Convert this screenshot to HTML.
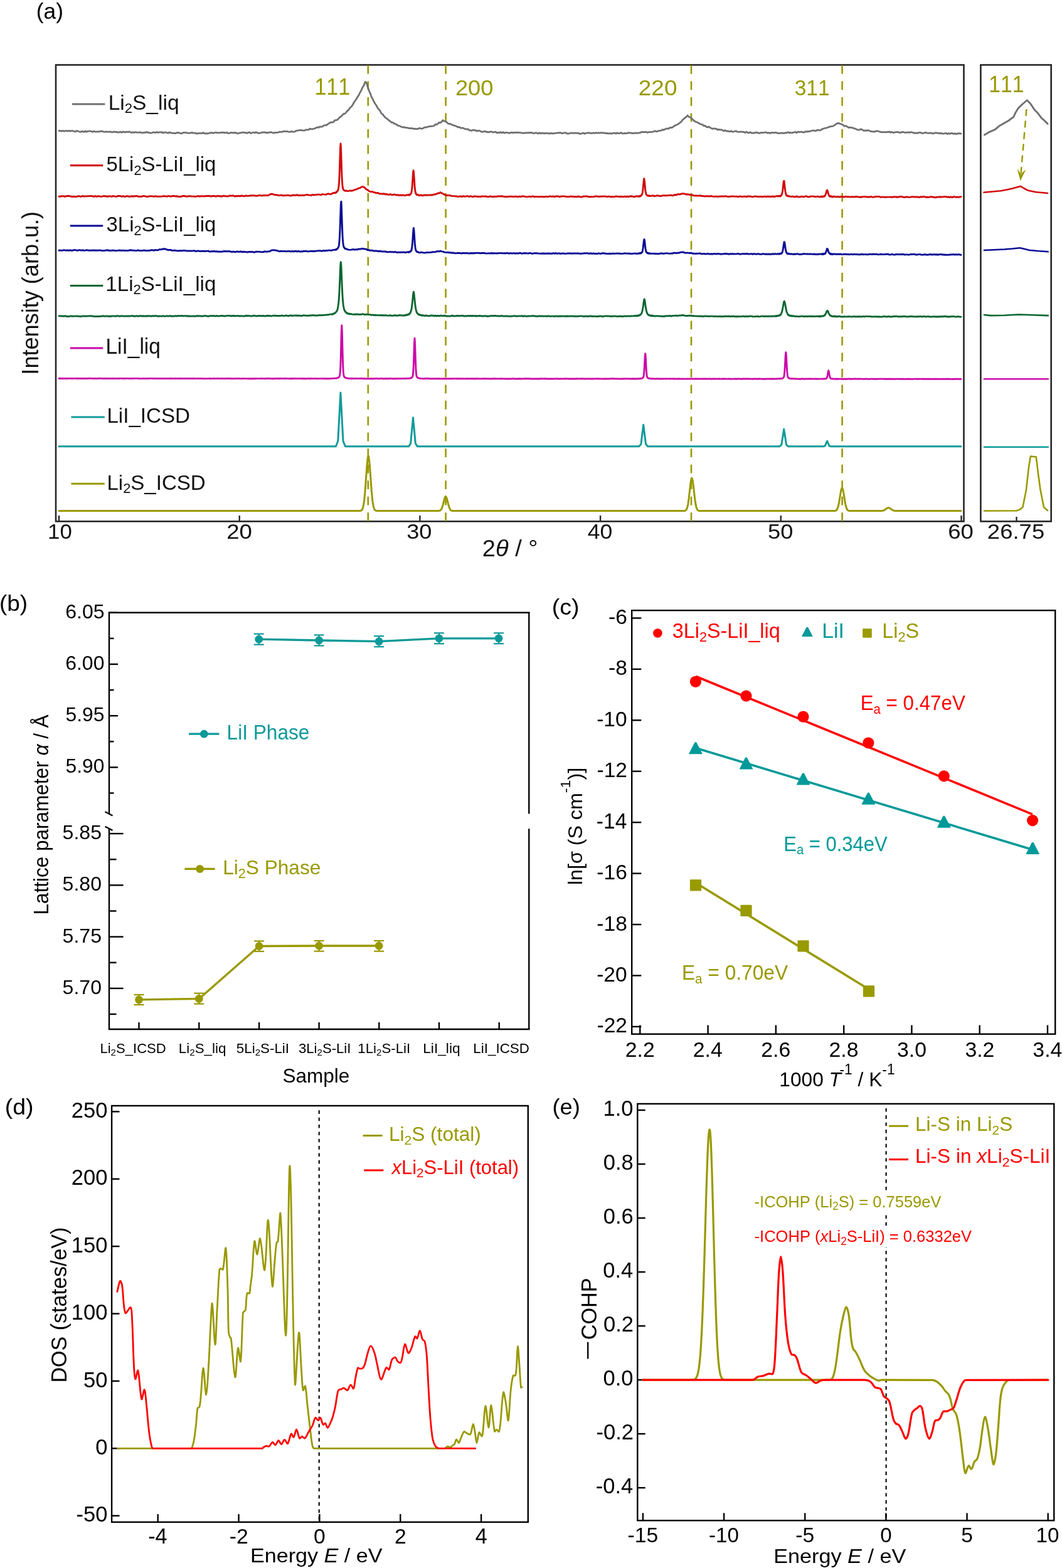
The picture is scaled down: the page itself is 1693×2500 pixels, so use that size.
<!DOCTYPE html>
<html><head><meta charset="utf-8"><title>Figure</title>
<style>
html,body{margin:0;padding:0;background:#fff;}
svg{display:block;}
text{font-family:"Liberation Sans",Arial,Helvetica,sans-serif;font-kerning:none;white-space:pre;}
</style></head>
<body>
<svg width="1693" height="2500" viewBox="0 0 1693 2500">
<rect width="1693" height="2500" fill="#fff"/>
<rect x="89" y="103.5" width="1447.5" height="727.8" fill="none" stroke="#262626" stroke-width="2.6"/>
<rect x="1563.4" y="103.5" width="112.3" height="727.8" fill="none" stroke="#262626" stroke-width="2.6"/>
<line x1="586.80" y1="104.00" x2="586.80" y2="831.00" stroke="#999900" stroke-width="2.60" stroke-dasharray="13.8 11.67"/>
<line x1="710.60" y1="104.00" x2="710.60" y2="831.00" stroke="#999900" stroke-width="2.60" stroke-dasharray="13.8 11.67"/>
<line x1="1102.00" y1="104.00" x2="1102.00" y2="831.00" stroke="#999900" stroke-width="2.60" stroke-dasharray="13.8 11.67"/>
<line x1="1342.60" y1="104.00" x2="1342.60" y2="831.00" stroke="#999900" stroke-width="2.60" stroke-dasharray="13.8 11.67"/>
<line x1="94.00" y1="831.30" x2="94.00" y2="822.00" stroke="#262626" stroke-width="2.40"/>
<line x1="381.70" y1="831.30" x2="381.70" y2="822.00" stroke="#262626" stroke-width="2.40"/>
<line x1="669.40" y1="831.30" x2="669.40" y2="822.00" stroke="#262626" stroke-width="2.40"/>
<line x1="957.10" y1="831.30" x2="957.10" y2="822.00" stroke="#262626" stroke-width="2.40"/>
<line x1="1244.80" y1="831.30" x2="1244.80" y2="822.00" stroke="#262626" stroke-width="2.40"/>
<line x1="1532.50" y1="831.30" x2="1532.50" y2="822.00" stroke="#262626" stroke-width="2.40"/>
<line x1="1620.50" y1="831.30" x2="1620.50" y2="824.00" stroke="#262626" stroke-width="2.40"/>
<polyline points="94.00,208.68 96.00,208.40 98.00,209.33 100.00,208.32 102.00,209.19 104.00,208.91 106.00,208.39 108.00,209.23 110.00,208.41 112.00,209.16 114.00,208.53 116.00,208.60 118.00,209.23 120.00,209.99 122.00,208.75 124.00,208.96 126.00,209.72 128.00,210.33 130.00,209.69 132.00,209.39 134.00,210.47 136.00,208.83 138.00,210.32 140.00,209.32 142.00,209.09 144.00,209.08 146.00,209.45 148.00,210.39 150.00,209.28 152.00,210.03 154.00,210.17 156.00,209.72 158.00,210.06 160.00,209.22 162.00,209.25 164.00,209.54 166.00,210.42 168.00,210.00 170.00,209.83 172.00,210.35 174.00,210.14 176.00,209.89 178.00,210.81 180.00,210.67 182.00,209.88 184.00,210.51 186.00,210.45 188.00,211.11 190.00,210.88 192.00,210.11 194.00,211.39 196.00,209.87 198.00,210.44 200.00,211.08 202.00,210.02 204.00,210.66 206.00,209.88 208.00,211.04 210.00,211.25 212.00,210.93 214.00,211.51 216.00,210.53 218.00,211.24 220.00,211.09 222.00,211.10 224.00,210.91 226.00,211.63 228.00,211.85 230.00,211.03 232.00,211.40 234.00,210.35 236.00,211.53 238.00,211.46 240.00,212.11 242.00,211.84 244.00,210.90 246.00,211.11 248.00,211.65 250.00,210.52 252.00,211.34 254.00,210.84 256.00,210.78 258.00,210.71 260.00,212.01 262.00,210.89 264.00,211.14 266.00,211.42 268.00,212.32 270.00,210.93 272.00,211.62 274.00,211.83 276.00,212.46 278.00,212.38 280.00,212.49 282.00,211.46 284.00,211.74 286.00,211.67 288.00,212.64 290.00,212.80 292.00,211.38 294.00,211.46 296.00,211.59 298.00,211.62 300.00,212.10 302.00,212.32 304.00,211.76 306.00,211.32 308.00,212.10 310.00,212.04 312.00,212.39 314.00,213.08 316.00,212.60 318.00,212.28 320.00,212.46 322.00,212.56 324.00,211.43 326.00,212.95 328.00,212.72 330.00,212.89 332.00,212.74 334.00,212.01 336.00,212.01 338.00,211.47 340.00,212.42 342.00,211.38 344.00,211.38 346.00,211.63 348.00,211.54 350.00,211.85 352.00,211.32 354.00,211.22 356.00,211.48 358.00,211.38 360.00,211.84 362.00,211.22 364.00,212.74 366.00,212.26 368.00,211.41 370.00,211.58 372.00,211.74 374.00,211.76 376.00,211.31 378.00,212.60 380.00,212.84 382.00,211.88 384.00,211.89 386.00,211.16 388.00,211.17 390.00,211.58 392.00,211.42 394.00,212.41 396.00,211.19 398.00,210.91 400.00,212.56 402.00,211.77 404.00,211.05 406.00,211.74 408.00,210.78 410.00,211.65 412.00,212.42 414.00,212.18 416.00,211.84 418.00,211.01 420.00,211.16 422.00,210.76 424.00,211.80 426.00,211.31 428.00,211.70 430.00,210.84 432.00,210.59 434.00,211.58 436.00,211.83 438.00,211.52 440.00,211.36 442.00,211.30 444.00,211.08 446.00,210.07 448.00,210.50 450.00,210.10 452.00,209.41 454.00,209.30 456.00,209.63 458.00,209.47 460.00,210.12 462.00,210.46 464.00,209.39 466.00,210.12 468.00,210.04 470.00,209.81 472.00,208.57 474.00,208.12 476.00,207.92 478.00,207.65 480.00,207.44 482.00,207.95 484.00,208.19 486.00,207.81 488.00,206.87 490.00,206.88 492.00,206.81 494.00,205.18 496.00,205.85 498.00,205.91 500.00,205.26 502.00,204.77 504.00,203.81 506.00,202.78 508.00,203.35 510.00,201.98 512.00,202.23 514.00,201.91 516.00,200.21 518.00,199.52 520.00,199.75 522.00,198.56 524.00,196.72 526.00,195.75 528.00,194.85 530.00,195.20 532.00,193.96 534.00,191.65 536.00,191.67 538.00,190.68 540.00,188.75 542.00,186.77 544.00,185.61 546.00,183.25 548.00,181.34 550.00,181.25 552.00,178.75 554.00,176.50 556.00,175.07 558.00,171.88 560.00,170.24 562.00,167.59 564.00,163.75 566.00,160.92 568.00,157.92 570.00,154.57 572.00,151.73 574.00,147.48 576.00,143.87 578.00,139.23 580.00,136.26 582.00,130.61 584.00,131.58 586.00,137.85 588.00,144.01 590.00,148.31 592.00,153.97 594.00,157.63 596.00,161.76 598.00,165.51 600.00,168.07 602.00,172.04 604.00,174.54 606.00,176.96 608.00,180.91 610.00,182.11 612.00,184.80 614.00,187.24 616.00,188.76 618.00,190.02 620.00,191.92 622.00,193.40 624.00,195.12 626.00,195.10 628.00,197.01 630.00,197.46 632.00,198.42 634.00,200.15 636.00,200.43 638.00,201.21 640.00,202.19 642.00,203.01 644.00,202.66 646.00,203.40 648.00,203.59 650.00,203.93 652.00,204.53 654.00,204.33 656.00,204.65 658.00,204.69 660.00,205.61 662.00,205.22 664.00,205.54 666.00,205.62 668.00,204.30 670.00,204.71 672.00,205.22 674.00,204.81 676.00,203.27 678.00,202.92 680.00,203.12 682.00,202.03 684.00,201.85 686.00,201.00 688.00,201.47 690.00,201.01 692.00,200.47 694.00,198.32 696.00,198.43 698.00,197.36 700.00,195.36 702.00,195.52 704.00,194.41 706.00,191.68 708.00,193.21 710.00,193.46 712.00,194.79 714.00,196.80 716.00,197.54 718.00,197.30 720.00,198.69 722.00,199.69 724.00,200.17 726.00,200.65 728.00,201.57 730.00,202.95 732.00,202.30 734.00,203.84 736.00,204.17 738.00,203.92 740.00,204.95 742.00,205.92 744.00,206.14 746.00,205.72 748.00,207.74 750.00,207.73 752.00,208.38 754.00,207.13 756.00,207.70 758.00,207.56 760.00,209.13 762.00,208.45 764.00,208.42 766.00,209.15 768.00,210.22 770.00,210.23 772.00,209.39 774.00,209.36 776.00,210.89 778.00,210.40 780.00,210.77 782.00,209.79 784.00,209.85 786.00,211.09 788.00,210.72 790.00,210.18 792.00,211.83 794.00,211.36 796.00,211.74 798.00,210.53 800.00,211.99 802.00,210.63 804.00,212.12 806.00,211.45 808.00,211.29 810.00,211.73 812.00,212.45 814.00,211.31 816.00,211.10 818.00,211.86 820.00,211.37 822.00,211.18 824.00,211.30 826.00,211.13 828.00,211.44 830.00,211.66 832.00,211.68 834.00,212.52 836.00,211.70 838.00,212.10 840.00,211.54 842.00,211.86 844.00,211.29 846.00,211.72 848.00,211.32 850.00,212.62 852.00,212.31 854.00,211.67 856.00,212.20 858.00,213.04 860.00,211.56 862.00,212.85 864.00,212.17 866.00,212.29 868.00,212.91 870.00,212.13 872.00,212.34 874.00,212.67 876.00,213.21 878.00,212.07 880.00,212.96 882.00,212.74 884.00,212.62 886.00,212.20 888.00,212.11 890.00,211.59 892.00,211.73 894.00,211.62 896.00,212.84 898.00,211.97 900.00,211.81 902.00,211.67 904.00,213.03 906.00,213.09 908.00,212.73 910.00,212.04 912.00,211.97 914.00,212.06 916.00,212.37 918.00,211.82 920.00,212.35 922.00,212.02 924.00,213.28 926.00,213.30 928.00,212.54 930.00,211.99 932.00,213.29 934.00,212.11 936.00,212.20 938.00,211.56 940.00,212.24 942.00,212.41 944.00,212.46 946.00,211.91 948.00,212.46 950.00,211.55 952.00,212.02 954.00,211.70 956.00,212.25 958.00,211.60 960.00,211.56 962.00,212.06 964.00,211.93 966.00,212.56 968.00,212.45 970.00,212.84 972.00,212.66 974.00,212.75 976.00,213.04 978.00,212.14 980.00,212.01 982.00,213.18 984.00,211.66 986.00,212.68 988.00,212.51 990.00,211.41 992.00,212.81 994.00,212.88 996.00,212.37 998.00,212.53 1000.00,212.64 1002.00,211.39 1004.00,212.03 1006.00,211.95 1008.00,212.50 1010.00,212.38 1012.00,212.36 1014.00,211.86 1016.00,212.34 1018.00,211.88 1020.00,211.81 1022.00,210.88 1024.00,210.42 1026.00,210.49 1028.00,210.77 1030.00,210.18 1032.00,211.34 1034.00,210.68 1036.00,210.63 1038.00,210.44 1040.00,210.32 1042.00,209.75 1044.00,208.62 1046.00,209.78 1048.00,209.39 1050.00,208.62 1052.00,208.32 1054.00,208.16 1056.00,206.67 1058.00,207.41 1060.00,206.04 1062.00,205.17 1064.00,204.91 1066.00,205.09 1068.00,203.43 1070.00,203.62 1072.00,203.19 1074.00,201.40 1076.00,200.19 1078.00,199.26 1080.00,198.42 1082.00,197.26 1084.00,195.55 1086.00,194.04 1088.00,191.31 1090.00,189.58 1092.00,187.74 1094.00,186.41 1096.00,184.06 1098.00,186.24 1100.00,186.84 1102.00,188.44 1104.00,190.22 1106.00,192.28 1108.00,193.56 1110.00,194.71 1112.00,195.12 1114.00,196.56 1116.00,197.44 1118.00,198.35 1120.00,198.58 1122.00,200.79 1124.00,200.29 1126.00,202.41 1128.00,203.00 1130.00,201.97 1132.00,203.36 1134.00,204.56 1136.00,205.35 1138.00,204.90 1140.00,205.04 1142.00,205.36 1144.00,207.09 1146.00,206.15 1148.00,207.17 1150.00,206.72 1152.00,207.72 1154.00,208.79 1156.00,207.59 1158.00,209.09 1160.00,208.77 1162.00,209.68 1164.00,209.57 1166.00,208.92 1168.00,210.31 1170.00,209.75 1172.00,209.09 1174.00,209.21 1176.00,210.23 1178.00,210.30 1180.00,210.16 1182.00,209.99 1184.00,210.47 1186.00,210.52 1188.00,211.57 1190.00,210.15 1192.00,211.58 1194.00,211.82 1196.00,210.61 1198.00,212.13 1200.00,211.80 1202.00,212.19 1204.00,211.14 1206.00,211.33 1208.00,211.41 1210.00,212.54 1212.00,211.83 1214.00,211.45 1216.00,211.59 1218.00,211.34 1220.00,210.95 1222.00,211.06 1224.00,212.39 1226.00,211.41 1228.00,212.58 1230.00,211.35 1232.00,211.38 1234.00,211.81 1236.00,211.23 1238.00,211.54 1240.00,212.58 1242.00,212.43 1244.00,212.28 1246.00,211.92 1248.00,212.40 1250.00,212.42 1252.00,211.67 1254.00,211.93 1256.00,210.68 1258.00,211.86 1260.00,211.29 1262.00,211.77 1264.00,211.50 1266.00,210.78 1268.00,210.27 1270.00,211.76 1272.00,210.22 1274.00,210.73 1276.00,210.38 1278.00,210.17 1280.00,210.83 1282.00,211.10 1284.00,209.65 1286.00,210.19 1288.00,209.36 1290.00,209.62 1292.00,209.11 1294.00,208.46 1296.00,208.19 1298.00,208.00 1300.00,208.96 1302.00,207.90 1304.00,207.05 1306.00,207.91 1308.00,207.66 1310.00,206.24 1312.00,205.20 1314.00,204.79 1316.00,204.05 1318.00,203.91 1320.00,202.81 1322.00,202.38 1324.00,201.66 1326.00,201.41 1328.00,201.11 1330.00,199.91 1332.00,198.29 1334.00,197.19 1336.00,196.19 1338.00,196.89 1340.00,197.73 1342.00,198.08 1344.00,199.27 1346.00,201.26 1348.00,200.45 1350.00,201.79 1352.00,202.64 1354.00,203.64 1356.00,203.02 1358.00,203.63 1360.00,204.07 1362.00,204.80 1364.00,205.31 1366.00,206.62 1368.00,206.80 1370.00,207.20 1372.00,205.99 1374.00,206.32 1376.00,207.83 1378.00,208.44 1380.00,207.93 1382.00,208.38 1384.00,207.54 1386.00,208.46 1388.00,209.62 1390.00,209.62 1392.00,209.85 1394.00,210.22 1396.00,209.07 1398.00,208.96 1400.00,209.18 1402.00,209.96 1404.00,210.37 1406.00,210.95 1408.00,210.65 1410.00,210.61 1412.00,210.92 1414.00,210.45 1416.00,210.69 1418.00,209.85 1420.00,211.25 1422.00,210.33 1424.00,211.62 1426.00,211.18 1428.00,210.62 1430.00,210.35 1432.00,210.62 1434.00,211.36 1436.00,211.51 1438.00,210.49 1440.00,210.45 1442.00,211.30 1444.00,211.43 1446.00,211.11 1448.00,210.83 1450.00,211.54 1452.00,210.50 1454.00,211.06 1456.00,211.41 1458.00,212.37 1460.00,211.86 1462.00,212.35 1464.00,211.67 1466.00,211.29 1468.00,211.37 1470.00,212.71 1472.00,212.30 1474.00,211.64 1476.00,211.17 1478.00,212.08 1480.00,212.45 1482.00,212.04 1484.00,211.79 1486.00,212.58 1488.00,213.09 1490.00,211.88 1492.00,211.58 1494.00,212.17 1496.00,212.37 1498.00,212.88 1500.00,212.05 1502.00,213.18 1504.00,213.11 1506.00,212.74 1508.00,212.24 1510.00,213.66 1512.00,212.52 1514.00,213.47 1516.00,212.45 1518.00,212.48 1520.00,213.49 1522.00,212.69 1524.00,213.92 1526.00,213.14 1528.00,212.62 1530.00,212.73 1532.00,213.12" fill="none" stroke="#707070" stroke-width="2.80" stroke-linejoin="round" stroke-linecap="round"/>
<polyline points="94.00,313.20 96.00,313.54 98.00,312.57 100.00,312.87 102.00,312.65 104.00,313.57 106.00,312.57 108.00,312.46 110.00,312.47 112.00,312.87 114.00,313.48 116.00,313.46 118.00,313.28 120.00,313.60 122.00,313.52 124.00,312.79 126.00,312.62 128.00,313.52 130.00,313.29 132.00,312.44 134.00,313.20 136.00,312.85 138.00,312.85 140.00,312.80 142.00,312.60 144.00,312.40 146.00,312.73 148.00,312.82 150.00,313.55 152.00,312.55 154.00,313.56 156.00,312.65 158.00,312.83 160.00,313.38 162.00,313.38 164.00,312.92 166.00,312.46 168.00,312.97 170.00,312.85 172.00,313.50 174.00,312.63 176.00,312.84 178.00,313.47 180.00,312.43 182.00,312.89 184.00,313.37 186.00,313.32 188.00,312.45 190.00,312.44 192.00,312.47 194.00,313.50 196.00,312.71 198.00,313.29 200.00,313.48 202.00,312.81 204.00,312.72 206.00,313.55 208.00,313.14 210.00,312.71 212.00,313.26 214.00,312.78 216.00,312.73 218.00,312.40 220.00,313.30 222.00,313.50 224.00,313.16 226.00,313.53 228.00,312.43 230.00,312.68 232.00,312.97 234.00,313.55 236.00,313.54 238.00,312.86 240.00,312.70 242.00,312.91 244.00,312.99 246.00,313.51 248.00,312.62 250.00,313.36 252.00,313.28 254.00,313.38 256.00,313.32 258.00,313.13 260.00,312.79 262.00,312.78 264.00,312.83 266.00,313.34 268.00,312.49 270.00,312.63 272.00,313.30 274.00,312.69 276.00,312.47 278.00,312.44 280.00,313.06 282.00,312.79 284.00,313.57 286.00,313.46 288.00,313.58 290.00,312.71 292.00,312.50 294.00,312.51 296.00,312.99 298.00,313.25 300.00,312.93 302.00,312.66 304.00,312.86 306.00,313.09 308.00,313.14 310.00,313.22 312.00,313.32 314.00,313.08 316.00,312.42 318.00,313.27 320.00,312.59 322.00,312.91 324.00,312.66 326.00,313.08 328.00,312.42 330.00,312.46 332.00,312.44 334.00,312.32 336.00,313.18 338.00,312.79 340.00,312.48 342.00,312.54 344.00,313.24 346.00,312.65 348.00,312.30 350.00,312.98 352.00,312.77 354.00,313.16 356.00,312.08 358.00,312.51 360.00,312.91 362.00,312.92 364.00,312.99 366.00,311.93 368.00,312.22 370.00,311.99 372.00,312.06 374.00,312.98 376.00,312.50 378.00,312.90 380.00,312.21 382.00,312.79 384.00,312.27 386.00,312.03 388.00,312.63 390.00,312.82 392.00,311.79 394.00,312.36 396.00,312.37 398.00,311.87 400.00,312.03 402.00,311.74 404.00,311.80 406.00,311.83 408.00,312.22 410.00,312.26 412.00,311.70 414.00,311.43 416.00,311.78 418.00,312.15 420.00,311.50 422.00,311.58 424.00,311.34 426.00,311.88 428.00,311.30 430.00,310.22 432.00,309.48 434.00,309.31 436.00,309.96 438.00,310.79 440.00,310.59 442.00,310.91 444.00,311.68 446.00,311.40 448.00,311.28 450.00,311.32 452.00,312.10 454.00,311.32 456.00,311.61 458.00,311.34 460.00,311.39 462.00,311.91 464.00,312.04 466.00,311.26 468.00,311.03 470.00,311.64 472.00,310.98 474.00,310.72 476.00,311.76 478.00,311.16 480.00,311.60 482.00,311.08 484.00,311.62 486.00,311.08 488.00,310.68 490.00,310.47 492.00,311.08 494.00,311.15 496.00,311.43 498.00,310.41 500.00,311.01 502.00,310.60 504.00,310.65 506.00,310.11 508.00,310.16 510.00,310.33 512.00,310.69 514.00,309.58 516.00,309.90 518.00,310.14 520.00,310.19 522.00,309.10 524.00,308.84 526.00,309.62 528.00,309.34 530.00,308.38 532.00,307.42 534.00,307.87 534.50,307.03 535.00,307.44 535.50,306.86 536.00,306.82 536.50,305.69 537.00,306.05 537.50,304.89 538.00,304.50 538.50,304.22 539.00,303.01 539.50,300.29 540.00,296.95 540.50,291.28 541.00,281.88 541.50,267.97 542.00,250.81 542.50,235.23 543.00,228.89 543.50,235.85 544.00,250.39 544.50,267.70 545.00,281.52 545.50,290.04 546.00,296.72 546.50,299.08 547.00,301.43 547.50,302.40 548.00,303.15 548.50,303.20 549.00,303.66 549.50,304.08 550.00,304.05 550.50,304.44 551.00,304.26 551.50,304.29 552.00,303.81 554.00,304.64 556.00,304.42 558.00,303.93 560.00,304.30 562.00,303.97 564.00,303.16 566.00,302.32 568.00,302.09 570.00,300.97 572.00,300.21 574.00,299.68 576.00,298.24 578.00,297.49 580.00,298.29 582.00,299.71 584.00,302.03 586.00,302.65 588.00,304.47 590.00,305.37 592.00,305.73 594.00,305.74 596.00,306.73 598.00,306.95 600.00,307.94 602.00,307.33 604.00,308.51 606.00,308.96 608.00,308.90 610.00,309.24 612.00,308.71 614.00,309.86 616.00,309.46 618.00,310.21 620.00,310.33 622.00,309.60 624.00,310.51 626.00,310.84 628.00,309.96 630.00,310.45 632.00,311.09 634.00,310.52 636.00,311.54 638.00,310.93 640.00,311.70 642.00,310.90 644.00,311.33 646.00,311.79 648.00,310.86 650.00,310.77 650.10,311.05 650.60,310.77 651.10,310.35 651.60,310.43 652.00,310.31 652.10,311.22 652.60,310.77 653.10,310.85 653.60,309.74 654.00,310.24 654.10,309.37 654.60,309.42 655.10,308.86 655.60,307.36 656.00,306.45 656.10,305.58 656.60,302.26 657.10,297.48 657.60,289.53 658.00,284.04 658.10,281.94 658.60,274.30 659.10,271.67 659.60,274.16 660.00,280.76 660.10,281.91 660.60,289.87 661.10,297.39 661.60,302.16 662.00,304.65 662.10,305.88 662.60,307.07 663.10,309.18 663.60,309.20 664.00,310.05 664.10,310.54 664.60,310.38 665.10,310.72 665.60,310.49 666.00,310.24 666.10,310.31 666.60,310.57 667.10,311.24 667.60,311.10 668.00,311.26 668.10,311.73 670.00,311.00 672.00,311.23 674.00,311.79 676.00,311.04 678.00,310.99 680.00,311.36 682.00,310.97 684.00,311.14 686.00,310.81 688.00,311.01 690.00,310.73 692.00,309.90 694.00,309.94 696.00,309.19 698.00,308.06 700.00,308.15 702.00,306.73 704.00,307.81 706.00,308.70 708.00,310.13 710.00,311.04 712.00,311.45 714.00,311.42 716.00,311.60 718.00,311.58 720.00,312.57 722.00,312.67 724.00,312.59 726.00,313.06 728.00,312.90 730.00,313.56 732.00,313.37 734.00,312.83 736.00,313.65 738.00,312.64 740.00,313.25 742.00,313.12 744.00,312.93 746.00,312.73 748.00,313.61 750.00,312.69 752.00,313.35 754.00,313.82 756.00,312.87 758.00,312.94 760.00,313.44 762.00,313.32 764.00,313.48 766.00,313.69 768.00,312.93 770.00,313.09 772.00,313.08 774.00,312.78 776.00,313.79 778.00,313.67 780.00,313.59 782.00,312.74 784.00,313.75 786.00,313.63 788.00,313.29 790.00,313.63 792.00,313.28 794.00,313.01 796.00,312.87 798.00,313.02 800.00,312.79 802.00,313.15 804.00,313.65 806.00,313.58 808.00,313.77 810.00,313.61 812.00,313.07 814.00,313.42 816.00,313.28 818.00,313.70 820.00,313.39 822.00,313.08 824.00,313.53 826.00,313.92 828.00,313.03 830.00,313.82 832.00,312.79 834.00,313.08 836.00,313.05 838.00,313.67 840.00,313.91 842.00,313.67 844.00,313.17 846.00,313.83 848.00,313.17 850.00,313.07 852.00,313.87 854.00,313.54 856.00,313.62 858.00,313.58 860.00,313.96 862.00,313.35 864.00,313.80 866.00,313.63 868.00,313.82 870.00,313.32 872.00,313.67 874.00,313.48 876.00,313.17 878.00,313.05 880.00,313.55 882.00,312.90 884.00,313.90 886.00,312.98 888.00,312.84 890.00,312.94 892.00,313.92 894.00,313.22 896.00,312.98 898.00,312.85 900.00,312.86 902.00,313.65 904.00,313.58 906.00,313.65 908.00,313.70 910.00,312.90 912.00,313.53 914.00,313.26 916.00,313.81 918.00,313.81 920.00,313.90 922.00,312.91 924.00,313.87 926.00,313.93 928.00,313.97 930.00,312.96 932.00,313.08 934.00,312.97 936.00,312.88 938.00,313.86 940.00,313.81 942.00,313.60 944.00,313.83 946.00,313.60 948.00,313.19 950.00,312.96 952.00,312.96 954.00,313.76 956.00,313.09 958.00,313.23 960.00,313.36 962.00,312.87 964.00,313.16 966.00,313.19 968.00,313.71 970.00,313.29 972.00,313.24 974.00,314.01 976.00,313.46 978.00,313.87 980.00,313.59 982.00,312.89 984.00,313.35 986.00,313.37 988.00,313.78 990.00,313.26 992.00,313.69 994.00,313.49 996.00,313.10 998.00,313.87 1000.00,312.94 1002.00,313.80 1004.00,313.01 1006.00,312.79 1008.00,313.02 1010.00,313.66 1012.00,313.88 1014.00,312.66 1016.00,313.16 1017.80,313.03 1018.00,313.37 1018.30,312.61 1018.80,312.92 1019.30,312.67 1019.80,313.17 1020.00,312.44 1020.30,313.18 1020.80,312.23 1021.30,311.96 1021.80,312.30 1022.00,311.94 1022.30,311.25 1022.80,311.38 1023.30,309.87 1023.80,309.30 1024.00,308.38 1024.30,306.95 1024.80,303.18 1025.30,297.97 1025.80,292.32 1026.00,290.07 1026.30,287.79 1026.80,284.64 1027.30,287.74 1027.80,291.77 1028.00,294.28 1028.30,297.71 1028.80,303.31 1029.30,306.37 1029.80,308.52 1030.00,309.76 1030.30,309.71 1030.80,310.77 1031.30,311.32 1031.80,311.87 1032.00,311.96 1032.30,311.94 1032.80,311.72 1033.30,311.80 1033.80,311.67 1034.00,312.52 1034.30,312.34 1034.80,312.48 1035.30,311.83 1035.80,312.17 1036.00,312.58 1038.00,312.37 1040.00,311.80 1042.00,312.24 1044.00,312.76 1046.00,311.99 1048.00,311.93 1050.00,312.04 1052.00,312.50 1054.00,312.63 1056.00,311.76 1058.00,311.70 1060.00,311.75 1062.00,311.76 1064.00,311.90 1066.00,311.35 1068.00,311.41 1070.00,311.09 1072.00,311.85 1074.00,311.34 1076.00,310.34 1078.00,311.08 1080.00,309.71 1082.00,309.66 1084.00,309.93 1086.00,309.18 1088.00,308.74 1090.00,308.91 1092.00,309.09 1094.00,310.03 1096.00,309.76 1098.00,310.21 1100.00,310.71 1102.00,310.54 1104.00,311.20 1106.00,311.88 1108.00,311.94 1110.00,311.86 1112.00,312.16 1114.00,312.09 1116.00,311.81 1118.00,312.47 1120.00,312.32 1122.00,312.80 1124.00,313.08 1126.00,312.57 1128.00,312.80 1130.00,313.06 1132.00,312.72 1134.00,312.53 1136.00,313.16 1138.00,313.39 1140.00,313.30 1142.00,313.24 1144.00,313.45 1146.00,313.27 1148.00,313.25 1150.00,313.05 1152.00,312.89 1154.00,313.29 1156.00,312.66 1158.00,313.06 1160.00,313.51 1162.00,313.44 1164.00,313.35 1166.00,312.90 1168.00,313.12 1170.00,313.17 1172.00,313.38 1174.00,313.13 1176.00,313.46 1178.00,313.77 1180.00,312.88 1182.00,313.45 1184.00,313.61 1186.00,313.15 1188.00,313.28 1190.00,313.86 1192.00,312.75 1194.00,313.36 1196.00,312.90 1198.00,313.66 1200.00,313.85 1202.00,313.35 1204.00,312.85 1206.00,313.43 1208.00,313.39 1210.00,313.61 1212.00,313.36 1214.00,313.52 1216.00,313.75 1218.00,313.38 1220.00,313.25 1222.00,313.89 1224.00,313.01 1226.00,313.57 1228.00,313.21 1230.00,313.65 1232.00,312.86 1234.00,313.87 1236.00,313.08 1238.00,312.65 1240.00,312.80 1240.70,312.90 1241.20,312.38 1241.70,312.81 1242.00,312.77 1242.20,313.08 1242.70,312.57 1243.20,312.37 1243.70,312.18 1244.00,312.71 1244.20,312.87 1244.70,312.15 1245.20,311.44 1245.70,311.61 1246.00,310.64 1246.20,310.02 1246.70,308.46 1247.20,306.93 1247.70,303.62 1248.00,300.89 1248.20,298.84 1248.70,294.05 1249.20,289.41 1249.70,288.54 1250.00,288.46 1250.20,289.91 1250.70,294.36 1251.20,299.26 1251.70,303.22 1252.00,305.15 1252.20,306.67 1252.70,308.47 1253.20,310.78 1253.70,311.09 1254.00,312.04 1254.20,311.52 1254.70,311.99 1255.20,312.08 1255.70,312.46 1256.00,312.26 1256.20,312.09 1256.70,313.06 1257.20,312.62 1257.70,312.65 1258.00,312.75 1258.20,312.99 1258.70,312.98 1260.00,313.34 1262.00,313.47 1264.00,313.18 1266.00,313.90 1268.00,313.85 1270.00,312.92 1272.00,313.86 1274.00,313.97 1276.00,313.84 1278.00,313.08 1280.00,313.92 1282.00,313.69 1284.00,312.96 1286.00,312.96 1288.00,314.10 1290.00,313.75 1292.00,313.26 1294.00,313.09 1296.00,313.14 1298.00,313.25 1300.00,313.90 1302.00,313.38 1304.00,313.13 1306.00,314.02 1308.00,313.85 1309.60,313.05 1310.00,313.90 1310.10,313.55 1310.60,313.74 1311.10,313.57 1311.60,313.80 1312.00,313.64 1312.10,313.69 1312.60,312.86 1313.10,313.38 1313.60,313.07 1314.00,313.20 1314.10,312.80 1314.60,313.07 1315.10,312.25 1315.60,311.23 1316.00,310.41 1316.10,310.07 1316.60,309.08 1317.10,306.80 1317.60,305.38 1318.00,303.66 1318.10,303.81 1318.60,303.17 1319.10,303.88 1319.60,305.86 1320.00,306.37 1320.10,307.75 1320.60,309.06 1321.10,310.59 1321.60,311.73 1322.00,312.50 1322.10,312.06 1322.60,312.54 1323.10,313.45 1323.60,312.56 1324.00,313.32 1324.10,313.34 1324.60,312.69 1325.10,313.45 1325.60,313.59 1326.00,313.92 1326.10,313.21 1326.60,314.03 1327.10,313.49 1327.60,313.48 1328.00,314.00 1330.00,313.02 1332.00,313.89 1334.00,313.80 1336.00,313.48 1338.00,314.13 1340.00,313.54 1342.00,313.69 1344.00,313.76 1346.00,314.06 1348.00,313.40 1350.00,313.68 1352.00,313.67 1354.00,313.83 1356.00,314.17 1358.00,313.54 1360.00,314.18 1362.00,313.68 1364.00,313.81 1366.00,313.54 1368.00,313.83 1370.00,314.39 1372.00,314.02 1374.00,314.19 1376.00,313.64 1378.00,313.63 1380.00,313.61 1382.00,313.96 1384.00,314.03 1386.00,314.21 1388.00,313.33 1390.00,314.15 1392.00,314.35 1394.00,313.95 1396.00,313.36 1398.00,313.67 1400.00,313.32 1402.00,313.55 1404.00,314.43 1406.00,314.06 1408.00,314.13 1410.00,314.29 1412.00,314.44 1414.00,314.09 1416.00,314.10 1418.00,314.12 1420.00,314.21 1422.00,314.10 1424.00,314.20 1426.00,313.65 1428.00,314.20 1430.00,313.95 1432.00,314.32 1434.00,313.54 1436.00,313.64 1438.00,313.47 1440.00,314.36 1442.00,314.54 1444.00,314.23 1446.00,313.89 1448.00,314.44 1450.00,314.41 1452.00,314.14 1454.00,313.78 1456.00,313.84 1458.00,313.99 1460.00,313.87 1462.00,314.01 1464.00,314.27 1466.00,314.63 1468.00,313.58 1470.00,314.20 1472.00,313.57 1474.00,313.67 1476.00,314.51 1478.00,314.23 1480.00,314.65 1482.00,314.09 1484.00,313.58 1486.00,314.03 1488.00,314.28 1490.00,314.70 1492.00,314.76 1494.00,314.16 1496.00,314.09 1498.00,313.72 1500.00,314.38 1502.00,313.87 1504.00,313.80 1506.00,313.64 1508.00,313.64 1510.00,314.46 1512.00,313.79 1514.00,314.81 1516.00,313.76 1518.00,314.70 1520.00,313.82 1522.00,313.69 1524.00,314.54 1526.00,313.97 1528.00,314.57 1530.00,313.92 1532.00,313.76" fill="none" stroke="#d20a0a" stroke-width="2.90" stroke-linejoin="round" stroke-linecap="round"/>
<polyline points="94.00,399.27 96.00,399.21 98.00,399.36 100.00,399.24 102.00,398.60 104.00,399.15 106.00,399.24 108.00,398.99 110.00,399.47 112.00,398.80 114.00,399.52 116.00,399.27 118.00,398.57 120.00,398.58 122.00,399.22 124.00,399.40 126.00,398.67 128.00,398.90 130.00,399.33 132.00,398.77 134.00,399.47 136.00,399.10 138.00,398.68 140.00,398.99 142.00,399.21 144.00,399.08 146.00,399.32 148.00,398.79 150.00,399.45 152.00,399.02 154.00,399.31 156.00,399.30 158.00,399.09 160.00,399.07 162.00,399.47 164.00,399.64 166.00,399.48 168.00,399.27 170.00,399.00 172.00,398.77 174.00,399.69 176.00,399.42 178.00,399.55 180.00,399.06 182.00,399.34 184.00,399.72 186.00,399.58 188.00,399.35 190.00,399.06 192.00,399.19 194.00,399.65 196.00,399.14 198.00,399.45 200.00,399.37 202.00,399.67 204.00,399.59 206.00,399.06 208.00,398.78 210.00,399.05 212.00,399.21 214.00,399.37 216.00,399.60 218.00,399.67 220.00,398.82 222.00,399.61 224.00,399.59 226.00,399.64 228.00,399.33 230.00,399.02 232.00,399.58 234.00,399.52 236.00,399.37 238.00,399.57 240.00,398.96 242.00,398.65 244.00,399.05 246.00,399.20 248.00,398.47 250.00,398.85 252.00,398.80 254.00,397.79 256.00,397.79 258.00,397.47 260.00,397.00 262.00,396.76 264.00,397.11 266.00,398.03 268.00,398.48 270.00,398.50 272.00,398.39 274.00,399.32 276.00,399.45 278.00,399.05 280.00,399.50 282.00,399.91 284.00,399.98 286.00,399.68 288.00,399.70 290.00,399.87 292.00,399.52 294.00,399.57 296.00,399.61 298.00,400.17 300.00,399.88 302.00,400.12 304.00,400.00 306.00,400.15 308.00,399.82 310.00,399.76 312.00,400.74 314.00,400.16 316.00,399.93 318.00,400.49 320.00,400.68 322.00,400.08 324.00,400.56 326.00,400.34 328.00,400.55 330.00,400.08 332.00,400.13 334.00,401.12 336.00,401.03 338.00,400.68 340.00,400.79 342.00,400.52 344.00,401.07 346.00,400.75 348.00,401.30 350.00,401.16 352.00,401.24 354.00,401.42 356.00,400.74 358.00,400.55 360.00,400.75 362.00,400.76 364.00,400.70 366.00,400.69 368.00,401.23 370.00,401.58 372.00,401.20 374.00,401.72 376.00,401.71 378.00,400.90 380.00,401.46 382.00,401.29 384.00,401.04 386.00,401.91 388.00,401.24 390.00,401.58 392.00,401.68 394.00,402.03 396.00,401.77 398.00,401.52 400.00,401.60 402.00,401.34 404.00,402.17 406.00,402.19 408.00,401.38 410.00,401.16 412.00,401.33 414.00,401.38 416.00,401.88 418.00,401.82 420.00,401.68 422.00,400.80 424.00,401.43 426.00,401.19 428.00,400.91 430.00,400.92 432.00,399.47 434.00,398.83 436.00,398.73 438.00,398.89 440.00,399.28 442.00,399.58 444.00,400.33 446.00,400.77 448.00,400.29 450.00,400.60 452.00,400.60 454.00,400.50 456.00,400.87 458.00,400.56 460.00,400.63 462.00,400.53 464.00,401.05 466.00,400.37 468.00,401.06 470.00,400.51 472.00,400.33 474.00,401.20 476.00,400.47 478.00,401.16 480.00,401.07 482.00,401.07 484.00,400.29 486.00,400.57 488.00,400.19 490.00,401.00 492.00,400.88 494.00,400.64 496.00,400.43 498.00,400.29 500.00,400.74 502.00,400.33 504.00,400.41 506.00,399.86 508.00,399.86 510.00,399.63 512.00,400.21 514.00,399.97 516.00,399.48 518.00,400.12 520.00,399.42 522.00,399.46 524.00,399.10 526.00,399.08 528.00,399.50 530.00,398.80 532.00,398.37 534.00,398.32 534.80,397.94 535.30,398.37 535.80,397.39 536.00,398.18 536.30,397.12 536.80,397.70 537.30,397.17 537.80,396.33 538.00,396.42 538.30,395.93 538.80,395.26 539.30,394.32 539.80,393.11 540.00,392.97 540.30,391.46 540.80,387.48 541.30,380.16 541.80,370.42 542.00,366.01 542.30,356.63 542.80,341.45 543.30,326.81 543.80,321.45 544.00,321.50 544.30,327.28 544.80,340.98 545.30,356.59 545.80,369.97 546.00,375.20 546.30,380.38 546.80,386.48 547.30,390.59 547.80,393.31 548.00,393.23 548.30,394.30 548.80,394.71 549.30,395.34 549.80,396.36 550.00,396.45 550.30,396.13 550.80,396.27 551.30,396.49 551.80,397.18 552.00,397.12 552.30,397.00 552.80,397.07 554.00,397.73 556.00,398.09 558.00,398.33 560.00,398.17 562.00,397.79 564.00,397.61 566.00,398.18 568.00,397.72 570.00,397.84 572.00,396.92 574.00,397.35 576.00,396.48 578.00,396.50 580.00,396.80 582.00,397.16 584.00,397.29 586.00,398.70 588.00,398.70 590.00,399.47 592.00,399.18 594.00,399.37 596.00,400.26 598.00,400.00 600.00,399.98 602.00,400.36 604.00,400.73 606.00,400.28 608.00,400.92 610.00,400.96 612.00,401.14 614.00,400.85 616.00,401.54 618.00,401.74 620.00,401.88 622.00,401.42 624.00,401.89 626.00,401.65 628.00,402.09 630.00,401.48 632.00,402.37 634.00,402.52 636.00,402.13 638.00,402.21 640.00,402.28 642.00,402.33 644.00,401.85 646.00,402.81 648.00,402.04 650.00,401.90 650.40,401.78 650.90,401.86 651.40,402.35 651.90,401.47 652.00,401.51 652.40,402.02 652.90,401.38 653.40,401.02 653.90,401.38 654.00,401.30 654.40,401.00 654.90,400.75 655.40,399.48 655.90,399.11 656.00,398.65 656.40,396.35 656.90,393.20 657.40,388.62 657.90,381.86 658.00,380.11 658.40,373.57 658.90,366.76 659.40,363.49 659.90,366.96 660.00,368.43 660.40,373.61 660.90,381.95 661.40,388.90 661.90,393.28 662.00,394.71 662.40,397.29 662.90,398.68 663.40,399.85 663.90,400.95 664.00,400.74 664.40,400.94 664.90,401.80 665.40,401.87 665.90,401.61 666.00,401.54 666.40,401.75 666.90,401.98 667.40,402.62 667.90,402.53 668.00,402.65 668.40,402.61 670.00,402.80 672.00,402.13 674.00,402.65 676.00,403.12 678.00,403.10 680.00,402.40 682.00,402.53 684.00,402.67 686.00,402.31 688.00,402.36 690.00,401.74 692.00,401.90 694.00,401.71 696.00,400.91 698.00,400.63 700.00,400.97 702.00,400.17 704.00,400.87 706.00,401.19 708.00,401.87 710.00,402.35 712.00,402.68 714.00,402.10 716.00,402.93 718.00,402.73 720.00,403.30 722.00,403.02 724.00,403.39 726.00,403.85 728.00,403.60 730.00,403.28 732.00,403.59 734.00,403.53 736.00,404.07 738.00,403.43 740.00,403.47 742.00,403.83 744.00,403.31 746.00,403.80 748.00,404.17 750.00,403.74 752.00,403.50 754.00,403.70 756.00,403.78 758.00,403.40 760.00,403.38 762.00,403.39 764.00,403.56 766.00,403.68 768.00,403.57 770.00,403.53 772.00,403.37 774.00,403.84 776.00,404.14 778.00,403.91 780.00,403.87 782.00,403.96 784.00,403.51 786.00,404.03 788.00,403.78 790.00,403.87 792.00,403.94 794.00,403.80 796.00,403.65 798.00,403.58 800.00,403.57 802.00,403.86 804.00,403.74 806.00,403.94 808.00,403.38 810.00,403.72 812.00,404.23 814.00,403.61 816.00,403.94 818.00,403.88 820.00,403.67 822.00,404.38 824.00,403.69 826.00,404.17 828.00,403.56 830.00,403.48 832.00,404.28 834.00,403.86 836.00,403.48 838.00,403.81 840.00,403.87 842.00,404.17 844.00,403.55 846.00,403.67 848.00,404.40 850.00,404.19 852.00,403.61 854.00,403.79 856.00,403.81 858.00,404.14 860.00,404.09 862.00,404.32 864.00,404.30 866.00,404.00 868.00,404.23 870.00,404.23 872.00,404.25 874.00,403.97 876.00,404.29 878.00,404.22 880.00,404.43 882.00,403.64 884.00,404.39 886.00,403.53 888.00,404.29 890.00,404.12 892.00,404.03 894.00,404.50 896.00,404.12 898.00,403.97 900.00,404.34 902.00,404.43 904.00,404.17 906.00,403.94 908.00,404.02 910.00,404.03 912.00,404.30 914.00,403.87 916.00,403.97 918.00,404.14 920.00,403.98 922.00,403.92 924.00,404.39 926.00,404.45 928.00,404.11 930.00,404.06 932.00,403.80 934.00,403.92 936.00,403.77 938.00,404.20 940.00,404.21 942.00,403.72 944.00,404.56 946.00,403.97 948.00,404.49 950.00,404.49 952.00,404.61 954.00,403.86 956.00,404.09 958.00,404.58 960.00,403.68 962.00,403.72 964.00,404.24 966.00,404.18 968.00,404.60 970.00,404.46 972.00,404.23 974.00,404.69 976.00,404.21 978.00,404.22 980.00,404.39 982.00,404.09 984.00,404.07 986.00,404.30 988.00,404.06 990.00,404.66 992.00,404.39 994.00,404.24 996.00,403.81 998.00,404.09 1000.00,404.11 1002.00,404.27 1004.00,404.28 1006.00,404.58 1008.00,404.65 1010.00,404.15 1012.00,404.08 1014.00,404.23 1016.00,404.53 1018.00,403.77 1018.50,403.92 1019.00,404.15 1019.50,403.45 1020.00,403.53 1020.50,404.11 1021.00,403.86 1021.50,403.42 1022.00,402.84 1022.50,403.38 1023.00,402.79 1023.50,402.26 1024.00,401.30 1024.50,399.31 1025.00,395.96 1025.50,391.74 1026.00,387.25 1026.50,383.34 1027.00,381.57 1027.50,383.02 1028.00,387.17 1028.50,392.25 1029.00,396.19 1029.50,398.84 1030.00,401.38 1030.50,402.17 1031.00,402.24 1031.50,403.01 1032.00,403.65 1032.50,403.35 1033.00,403.88 1033.50,403.30 1034.00,403.69 1034.50,404.31 1035.00,404.11 1035.50,404.25 1036.00,403.82 1038.00,404.26 1040.00,404.40 1042.00,404.15 1044.00,404.55 1046.00,404.44 1048.00,404.90 1050.00,404.48 1052.00,404.30 1054.00,403.99 1056.00,404.00 1058.00,404.58 1060.00,403.89 1062.00,403.84 1064.00,403.85 1066.00,404.14 1068.00,404.37 1070.00,404.07 1072.00,404.16 1074.00,403.30 1076.00,403.11 1078.00,403.71 1080.00,403.07 1082.00,403.25 1084.00,402.63 1086.00,402.16 1088.00,402.05 1090.00,402.18 1092.00,403.24 1094.00,403.15 1096.00,403.12 1098.00,403.40 1100.00,403.50 1102.00,403.31 1104.00,404.27 1106.00,404.07 1108.00,404.55 1110.00,404.12 1112.00,404.37 1114.00,404.07 1116.00,403.93 1118.00,404.87 1120.00,404.85 1122.00,404.35 1124.00,404.97 1126.00,404.93 1128.00,404.45 1130.00,404.78 1132.00,405.16 1134.00,404.72 1136.00,405.20 1138.00,404.51 1140.00,404.67 1142.00,405.02 1144.00,404.54 1146.00,404.64 1148.00,405.22 1150.00,404.84 1152.00,405.16 1154.00,404.62 1156.00,404.56 1158.00,404.76 1160.00,404.59 1162.00,405.39 1164.00,404.72 1166.00,404.99 1168.00,404.56 1170.00,404.98 1172.00,404.84 1174.00,404.87 1176.00,404.53 1178.00,404.60 1180.00,405.31 1182.00,404.84 1184.00,404.74 1186.00,404.69 1188.00,404.79 1190.00,404.75 1192.00,404.55 1194.00,405.19 1196.00,404.87 1198.00,404.69 1200.00,405.25 1202.00,404.64 1204.00,404.82 1206.00,405.39 1208.00,404.69 1210.00,405.01 1212.00,405.40 1214.00,405.37 1216.00,404.73 1218.00,404.93 1220.00,405.30 1222.00,404.96 1224.00,405.54 1226.00,404.79 1228.00,405.53 1230.00,405.07 1232.00,404.79 1234.00,405.00 1236.00,404.65 1238.00,405.18 1240.00,404.67 1241.30,405.23 1241.80,404.88 1242.00,404.65 1242.30,404.50 1242.80,404.80 1243.30,404.34 1243.80,404.92 1244.00,404.14 1244.30,404.46 1244.80,404.36 1245.30,403.92 1245.80,404.16 1246.00,403.63 1246.30,403.64 1246.80,402.87 1247.30,401.50 1247.80,399.82 1248.00,398.59 1248.30,397.04 1248.80,394.38 1249.30,390.10 1249.80,387.20 1250.00,385.80 1250.30,385.76 1250.80,386.90 1251.30,390.28 1251.80,393.83 1252.00,395.01 1252.30,397.19 1252.80,399.67 1253.30,401.33 1253.80,403.04 1254.00,402.92 1254.30,403.41 1254.80,404.32 1255.30,404.45 1255.80,404.73 1256.00,404.77 1256.30,404.12 1256.80,404.36 1257.30,404.20 1257.80,404.92 1258.00,404.93 1258.30,404.65 1258.80,404.75 1259.30,405.04 1260.00,405.13 1262.00,404.77 1264.00,405.43 1266.00,404.98 1268.00,405.28 1270.00,404.86 1272.00,404.81 1274.00,405.62 1276.00,405.45 1278.00,405.44 1280.00,404.78 1282.00,404.79 1284.00,404.92 1286.00,404.96 1288.00,405.07 1290.00,405.16 1292.00,404.82 1294.00,405.09 1296.00,405.42 1298.00,404.97 1300.00,405.63 1302.00,405.35 1304.00,405.49 1306.00,405.02 1308.00,405.17 1309.90,405.37 1310.00,405.03 1310.40,404.67 1310.90,405.48 1311.40,405.40 1311.90,404.87 1312.00,404.62 1312.40,405.40 1312.90,405.10 1313.40,404.48 1313.90,404.58 1314.00,404.42 1314.40,404.98 1314.90,404.18 1315.40,404.52 1315.90,403.78 1316.00,402.97 1316.40,402.86 1316.90,401.35 1317.40,400.19 1317.90,398.64 1318.00,397.78 1318.40,396.53 1318.90,396.83 1319.40,396.87 1319.90,398.75 1320.00,398.83 1320.40,400.19 1320.90,401.80 1321.40,402.80 1321.90,403.50 1322.00,403.24 1322.40,404.33 1322.90,404.42 1323.40,404.73 1323.90,405.29 1324.00,404.51 1324.40,405.22 1324.90,404.57 1325.40,405.29 1325.90,405.43 1326.00,404.90 1326.40,405.21 1326.90,405.66 1327.40,405.36 1327.90,405.28 1328.00,404.99 1330.00,404.86 1332.00,405.20 1334.00,405.28 1336.00,405.09 1338.00,405.21 1340.00,405.05 1342.00,405.64 1344.00,405.61 1346.00,405.18 1348.00,405.20 1350.00,405.48 1352.00,405.42 1354.00,405.91 1356.00,405.34 1358.00,405.29 1360.00,405.88 1362.00,405.15 1364.00,405.58 1366.00,405.35 1368.00,405.84 1370.00,405.58 1372.00,405.80 1374.00,405.21 1376.00,405.72 1378.00,405.65 1380.00,405.52 1382.00,405.83 1384.00,405.90 1386.00,405.19 1388.00,405.37 1390.00,405.45 1392.00,405.30 1394.00,405.16 1396.00,405.39 1398.00,405.31 1400.00,405.82 1402.00,405.57 1404.00,405.24 1406.00,405.46 1408.00,405.61 1410.00,405.51 1412.00,405.32 1414.00,405.23 1416.00,405.18 1418.00,406.16 1420.00,405.93 1422.00,405.27 1424.00,405.91 1426.00,406.18 1428.00,405.77 1430.00,405.32 1432.00,405.70 1434.00,405.65 1436.00,405.41 1438.00,405.77 1440.00,405.24 1442.00,406.16 1444.00,405.89 1446.00,405.88 1448.00,406.19 1450.00,405.92 1452.00,405.52 1454.00,405.52 1456.00,405.42 1458.00,405.32 1460.00,406.07 1462.00,406.14 1464.00,405.60 1466.00,405.50 1468.00,405.95 1470.00,406.17 1472.00,406.25 1474.00,405.50 1476.00,406.12 1478.00,406.18 1480.00,406.09 1482.00,405.68 1484.00,405.55 1486.00,406.19 1488.00,405.69 1490.00,405.75 1492.00,405.94 1494.00,405.76 1496.00,406.23 1498.00,405.64 1500.00,405.45 1502.00,405.98 1504.00,406.05 1506.00,406.24 1508.00,406.14 1510.00,406.34 1512.00,406.39 1514.00,405.94 1516.00,405.95 1518.00,405.62 1520.00,405.76 1522.00,406.05 1524.00,405.56 1526.00,406.17 1528.00,405.65 1530.00,405.94 1532.00,406.47" fill="none" stroke="#0c0c96" stroke-width="2.90" stroke-linejoin="round" stroke-linecap="round"/>
<polyline points="94.00,503.83 96.00,503.78 98.00,504.14 100.00,503.91 102.00,504.38 104.00,503.73 106.00,504.48 108.00,504.49 110.00,504.43 112.00,504.10 114.00,503.97 116.00,504.30 118.00,504.17 120.00,504.08 122.00,504.00 124.00,504.09 126.00,504.29 128.00,504.43 130.00,504.50 132.00,503.83 134.00,503.94 136.00,504.07 138.00,504.18 140.00,503.98 142.00,503.84 144.00,503.74 146.00,503.95 148.00,504.07 150.00,504.53 152.00,504.47 154.00,504.42 156.00,504.52 158.00,504.50 160.00,504.19 162.00,504.36 164.00,503.68 166.00,504.23 168.00,504.17 170.00,503.88 172.00,504.13 174.00,504.47 176.00,504.04 178.00,504.19 180.00,503.87 182.00,503.91 184.00,504.39 186.00,503.61 188.00,503.76 190.00,504.19 192.00,503.98 194.00,503.65 196.00,504.17 198.00,503.90 200.00,504.09 202.00,503.94 204.00,504.04 206.00,504.06 208.00,503.91 210.00,503.65 212.00,503.71 214.00,504.34 216.00,504.03 218.00,503.63 220.00,504.31 222.00,503.76 224.00,503.61 226.00,504.00 228.00,503.74 230.00,503.95 232.00,504.01 234.00,503.71 236.00,504.02 238.00,503.60 240.00,503.96 242.00,504.02 244.00,503.56 246.00,503.85 248.00,503.55 250.00,503.87 252.00,504.25 254.00,503.97 256.00,504.11 258.00,504.15 260.00,503.56 262.00,504.35 264.00,504.10 266.00,503.54 268.00,504.19 270.00,503.80 272.00,503.59 274.00,504.30 276.00,503.94 278.00,504.13 280.00,503.55 282.00,504.12 284.00,503.47 286.00,503.63 288.00,503.75 290.00,503.42 292.00,503.94 294.00,503.59 296.00,503.67 298.00,504.03 300.00,503.77 302.00,504.19 304.00,503.94 306.00,504.17 308.00,503.88 310.00,504.20 312.00,504.15 314.00,503.52 316.00,504.03 318.00,503.67 320.00,504.04 322.00,503.96 324.00,504.09 326.00,503.46 328.00,503.68 330.00,504.00 332.00,504.19 334.00,503.98 336.00,503.37 338.00,503.87 340.00,503.41 342.00,503.81 344.00,504.04 346.00,503.41 348.00,504.14 350.00,503.91 352.00,503.53 354.00,503.47 356.00,503.69 358.00,504.04 360.00,503.81 362.00,503.38 364.00,503.30 366.00,503.37 368.00,503.99 370.00,503.43 372.00,503.76 374.00,503.52 376.00,503.87 378.00,503.59 380.00,503.38 382.00,504.03 384.00,503.72 386.00,503.86 388.00,503.96 390.00,504.08 392.00,503.24 394.00,503.53 396.00,503.35 398.00,503.66 400.00,503.99 402.00,503.92 404.00,503.23 406.00,503.36 408.00,503.93 410.00,503.80 412.00,503.54 414.00,503.61 416.00,503.32 418.00,503.93 420.00,503.52 422.00,503.95 424.00,503.71 426.00,503.22 428.00,503.45 430.00,503.34 432.00,503.95 434.00,503.67 436.00,503.17 438.00,503.28 440.00,503.45 442.00,503.54 444.00,503.63 446.00,503.46 448.00,503.41 450.00,503.07 452.00,503.57 454.00,503.32 456.00,503.01 458.00,503.38 460.00,503.83 462.00,502.96 464.00,503.03 466.00,503.47 468.00,503.09 470.00,503.06 472.00,503.24 474.00,503.00 476.00,503.25 478.00,503.19 480.00,503.54 482.00,503.55 484.00,502.66 486.00,503.10 488.00,503.26 490.00,503.32 492.00,503.20 494.00,503.04 496.00,503.01 498.00,502.73 500.00,502.62 502.00,503.03 504.00,503.05 506.00,503.06 508.00,502.77 510.00,502.37 512.00,502.71 514.00,502.62 516.00,502.32 518.00,502.34 520.00,501.97 522.00,502.01 524.00,501.70 526.00,501.17 528.00,501.13 529.30,500.86 529.80,501.35 530.00,500.84 530.30,500.66 530.80,500.41 531.30,500.24 531.80,500.17 532.00,499.90 532.30,499.66 532.80,500.21 533.30,499.57 533.80,499.26 534.00,499.24 534.30,498.79 534.80,498.26 535.30,497.69 535.80,497.34 536.00,497.09 536.30,497.05 536.80,496.06 537.30,495.38 537.80,493.52 538.00,493.41 538.30,492.01 538.80,489.23 539.30,486.13 539.80,482.10 540.00,480.29 540.30,475.91 540.80,468.33 541.30,457.84 541.80,446.07 542.00,440.14 542.30,432.79 542.80,422.49 543.30,417.64 543.80,421.89 544.00,425.42 544.30,432.48 544.80,445.48 545.30,458.04 545.80,467.76 546.00,471.36 546.30,475.69 546.80,482.02 547.30,486.64 547.80,489.62 548.00,490.22 548.30,492.01 548.80,493.93 549.30,494.90 549.80,495.45 550.00,496.45 550.30,496.98 550.80,497.16 551.30,497.53 551.80,498.03 552.00,498.51 552.30,499.04 552.80,499.16 553.30,499.70 553.80,499.30 554.00,499.50 554.30,500.00 554.80,500.09 555.30,500.04 555.80,500.42 556.00,500.17 556.30,499.99 556.80,500.42 557.30,500.18 558.00,500.82 560.00,500.80 562.00,501.12 564.00,501.32 566.00,501.06 568.00,501.25 570.00,500.80 572.00,501.55 574.00,501.13 576.00,501.45 578.00,500.62 580.00,501.21 582.00,501.48 584.00,501.31 586.00,501.29 588.00,501.51 590.00,501.65 592.00,502.34 594.00,501.83 596.00,502.58 598.00,502.31 600.00,502.48 602.00,502.59 604.00,502.62 606.00,502.76 608.00,502.76 610.00,502.56 612.00,502.97 614.00,502.58 616.00,503.02 618.00,503.10 620.00,503.14 622.00,502.75 624.00,503.20 626.00,503.40 628.00,502.95 630.00,502.81 632.00,503.04 634.00,503.42 636.00,502.68 638.00,502.55 640.00,502.93 642.00,503.03 644.00,503.03 645.40,502.55 645.90,503.06 646.00,502.36 646.40,502.79 646.90,502.13 647.40,502.00 647.90,502.01 648.00,501.93 648.40,502.25 648.90,502.19 649.40,501.72 649.90,502.26 650.00,501.71 650.40,501.37 650.90,501.19 651.40,501.44 651.90,501.32 652.00,500.57 652.40,500.16 652.90,500.40 653.40,499.36 653.90,499.33 654.00,498.73 654.40,498.09 654.90,496.59 655.40,495.35 655.90,492.84 656.00,492.19 656.40,490.34 656.90,485.93 657.40,481.97 657.90,476.19 658.00,475.64 658.40,471.25 658.90,467.52 659.40,465.18 659.90,467.25 660.00,467.79 660.40,471.72 660.90,476.99 661.40,481.89 661.90,486.05 662.00,486.88 662.40,489.78 662.90,492.83 663.40,494.86 663.90,496.49 664.00,497.27 664.40,498.12 664.90,498.74 665.40,500.08 665.90,499.93 666.00,500.34 666.40,500.31 666.90,501.31 667.40,501.61 667.90,501.32 668.00,501.80 668.40,502.03 668.90,501.73 669.40,501.93 669.90,502.20 670.00,502.59 670.40,502.03 670.90,502.61 671.40,502.62 671.90,502.57 672.00,502.70 672.40,503.04 672.90,502.50 673.40,503.16 674.00,502.76 676.00,503.30 678.00,503.50 680.00,502.97 682.00,503.66 684.00,503.83 686.00,503.24 688.00,503.03 690.00,503.14 692.00,503.94 694.00,503.09 696.00,503.93 698.00,503.26 700.00,503.80 702.00,503.24 704.00,503.32 706.00,503.79 708.00,503.27 710.00,503.50 712.00,504.03 714.00,503.86 716.00,504.02 718.00,504.11 720.00,503.27 722.00,503.46 724.00,503.97 726.00,503.88 728.00,503.30 730.00,503.73 732.00,503.49 734.00,503.67 736.00,503.39 738.00,503.32 740.00,504.19 742.00,503.59 744.00,504.10 746.00,503.43 748.00,503.76 750.00,503.45 752.00,503.72 754.00,503.50 756.00,503.96 758.00,503.48 760.00,504.02 762.00,503.81 764.00,503.47 766.00,503.69 768.00,503.82 770.00,504.21 772.00,503.70 774.00,503.58 776.00,504.27 778.00,504.20 780.00,504.06 782.00,503.66 784.00,503.57 786.00,503.66 788.00,503.49 790.00,503.47 792.00,503.89 794.00,503.81 796.00,503.94 798.00,503.77 800.00,503.46 802.00,504.08 804.00,504.05 806.00,503.96 808.00,503.96 810.00,504.10 812.00,504.36 814.00,504.27 816.00,504.13 818.00,503.85 820.00,503.78 822.00,503.88 824.00,504.38 826.00,503.86 828.00,503.86 830.00,503.89 832.00,503.65 834.00,504.43 836.00,503.54 838.00,504.08 840.00,504.37 842.00,503.77 844.00,504.10 846.00,503.89 848.00,503.78 850.00,503.74 852.00,503.67 854.00,504.33 856.00,504.28 858.00,504.40 860.00,503.63 862.00,504.21 864.00,503.88 866.00,504.18 868.00,504.10 870.00,503.89 872.00,504.48 874.00,503.61 876.00,504.29 878.00,504.39 880.00,504.09 882.00,504.16 884.00,504.53 886.00,503.85 888.00,504.21 890.00,504.32 892.00,503.99 894.00,504.30 896.00,504.01 898.00,504.14 900.00,504.22 902.00,504.28 904.00,503.96 906.00,504.24 908.00,504.17 910.00,503.89 912.00,504.24 914.00,503.93 916.00,504.52 918.00,504.13 920.00,504.35 922.00,504.18 924.00,504.14 926.00,503.92 928.00,503.85 930.00,504.56 932.00,504.20 934.00,504.20 936.00,504.21 938.00,504.47 940.00,503.96 942.00,503.90 944.00,504.49 946.00,504.16 948.00,504.33 950.00,504.50 952.00,504.56 954.00,504.54 956.00,503.80 958.00,504.11 960.00,504.52 962.00,504.51 964.00,503.88 966.00,503.91 968.00,504.00 970.00,503.87 972.00,504.10 974.00,504.50 976.00,504.25 978.00,504.19 980.00,503.86 982.00,504.13 984.00,504.67 986.00,504.40 988.00,504.17 990.00,504.19 992.00,504.47 994.00,504.43 996.00,503.87 998.00,504.33 1000.00,504.04 1002.00,504.15 1004.00,503.87 1006.00,503.95 1008.00,503.87 1010.00,503.83 1012.00,503.40 1013.20,503.48 1013.70,503.78 1014.00,503.29 1014.20,503.38 1014.70,503.81 1015.20,503.35 1015.70,503.33 1016.00,503.22 1016.20,503.72 1016.70,502.97 1017.20,503.36 1017.70,503.45 1018.00,502.78 1018.20,502.93 1018.70,503.11 1019.20,502.78 1019.70,502.35 1020.00,501.91 1020.20,502.16 1020.70,501.78 1021.20,501.70 1021.70,500.82 1022.00,500.55 1022.20,500.48 1022.70,499.75 1023.20,498.16 1023.70,496.62 1024.00,495.62 1024.20,495.04 1024.70,491.76 1025.20,489.24 1025.70,485.33 1026.00,482.75 1026.20,481.56 1026.70,478.31 1027.20,476.93 1027.70,478.69 1028.00,479.97 1028.20,481.43 1028.70,485.13 1029.20,489.17 1029.70,492.26 1030.00,493.24 1030.20,494.73 1030.70,496.67 1031.20,498.24 1031.70,499.75 1032.00,499.93 1032.20,500.30 1032.70,501.33 1033.20,501.43 1033.70,501.86 1034.00,502.08 1034.20,502.47 1034.70,502.59 1035.20,502.86 1035.70,502.73 1036.00,502.50 1036.20,503.13 1036.70,503.14 1037.20,503.44 1037.70,503.54 1038.00,503.00 1038.20,503.13 1038.70,503.07 1039.20,503.80 1039.70,503.21 1040.00,503.23 1040.20,503.85 1040.70,503.72 1041.20,503.30 1042.00,503.92 1044.00,504.05 1046.00,503.91 1048.00,503.57 1050.00,504.17 1052.00,503.93 1054.00,504.09 1056.00,504.46 1058.00,504.28 1060.00,504.31 1062.00,503.63 1064.00,503.76 1066.00,503.88 1068.00,503.36 1070.00,504.18 1072.00,503.45 1074.00,503.35 1076.00,503.28 1078.00,503.11 1080.00,503.53 1082.00,503.14 1084.00,503.00 1086.00,502.86 1088.00,502.51 1090.00,502.78 1092.00,503.37 1094.00,503.43 1096.00,503.61 1098.00,503.20 1100.00,503.27 1102.00,503.25 1104.00,503.79 1106.00,503.73 1108.00,503.88 1110.00,503.97 1112.00,504.11 1114.00,503.96 1116.00,504.40 1118.00,503.89 1120.00,504.57 1122.00,504.27 1124.00,503.84 1126.00,504.10 1128.00,504.31 1130.00,504.22 1132.00,504.37 1134.00,504.17 1136.00,504.13 1138.00,504.62 1140.00,504.17 1142.00,504.56 1144.00,504.65 1146.00,504.47 1148.00,504.35 1150.00,504.79 1152.00,504.35 1154.00,504.75 1156.00,504.02 1158.00,504.36 1160.00,504.55 1162.00,504.02 1164.00,504.76 1166.00,504.05 1168.00,504.53 1170.00,504.16 1172.00,504.83 1174.00,504.50 1176.00,504.72 1178.00,504.45 1180.00,504.61 1182.00,504.62 1184.00,504.28 1186.00,504.20 1188.00,504.77 1190.00,504.14 1192.00,504.84 1194.00,504.20 1196.00,504.11 1198.00,504.10 1200.00,504.72 1202.00,504.87 1204.00,504.38 1206.00,504.60 1208.00,504.24 1210.00,504.82 1212.00,504.61 1214.00,504.13 1216.00,504.03 1218.00,504.60 1220.00,504.00 1222.00,504.70 1224.00,504.19 1226.00,504.11 1228.00,504.40 1230.00,504.12 1232.00,504.28 1234.00,503.83 1236.00,504.40 1236.30,503.85 1236.80,504.28 1237.30,503.62 1237.80,504.15 1238.00,504.29 1238.30,503.73 1238.80,503.35 1239.30,503.59 1239.80,503.75 1240.00,503.34 1240.30,503.58 1240.80,503.07 1241.30,503.28 1241.80,503.38 1242.00,503.04 1242.30,503.16 1242.80,502.44 1243.30,502.81 1243.80,501.83 1244.00,502.38 1244.30,502.14 1244.80,501.47 1245.30,500.26 1245.80,498.95 1246.00,498.47 1246.30,497.94 1246.80,495.93 1247.30,494.16 1247.80,490.89 1248.00,490.16 1248.30,488.81 1248.80,485.73 1249.30,483.11 1249.80,480.86 1250.00,480.48 1250.30,480.35 1250.80,481.59 1251.30,483.39 1251.80,485.40 1252.00,487.16 1252.30,488.07 1252.80,491.35 1253.30,494.20 1253.80,495.80 1254.00,497.10 1254.30,497.86 1254.80,498.74 1255.30,500.09 1255.80,501.03 1256.00,501.13 1256.30,501.92 1256.80,501.89 1257.30,502.79 1257.80,502.62 1258.00,502.50 1258.30,503.07 1258.80,502.82 1259.30,503.37 1259.80,503.71 1260.00,503.58 1260.30,503.51 1260.80,503.22 1261.30,503.73 1261.80,503.42 1262.00,503.94 1262.30,503.51 1262.80,503.97 1263.30,503.82 1263.80,503.88 1264.00,504.15 1264.30,503.73 1266.00,503.84 1268.00,504.62 1270.00,504.14 1272.00,504.65 1274.00,504.71 1276.00,504.39 1278.00,504.11 1280.00,504.08 1282.00,504.80 1284.00,504.13 1286.00,504.48 1288.00,504.52 1290.00,504.15 1292.00,504.46 1294.00,504.19 1296.00,504.52 1298.00,504.49 1300.00,504.35 1302.00,504.18 1304.00,504.34 1304.90,504.14 1305.40,504.06 1305.90,504.15 1306.00,504.71 1306.40,504.37 1306.90,504.70 1307.40,503.90 1307.90,504.71 1308.00,504.30 1308.40,504.55 1308.90,504.32 1309.40,504.40 1309.90,503.95 1310.00,504.41 1310.40,503.84 1310.90,503.88 1311.40,503.61 1311.90,503.85 1312.00,503.95 1312.40,503.66 1312.90,504.06 1313.40,503.15 1313.90,503.33 1314.00,502.96 1314.40,502.99 1314.90,502.68 1315.40,501.98 1315.90,500.58 1316.00,500.57 1316.40,500.09 1316.90,499.31 1317.40,497.26 1317.90,496.65 1318.00,496.52 1318.40,496.00 1318.90,495.26 1319.40,495.99 1319.90,496.52 1320.00,497.14 1320.40,497.24 1320.90,499.27 1321.40,499.93 1321.90,500.90 1322.00,500.79 1322.40,501.57 1322.90,502.64 1323.40,503.08 1323.90,502.96 1324.00,503.19 1324.40,503.21 1324.90,503.45 1325.40,503.61 1325.90,503.82 1326.00,504.42 1326.40,504.50 1326.90,504.38 1327.40,504.15 1327.90,504.22 1328.00,504.48 1328.40,504.62 1328.90,504.52 1329.40,504.44 1329.90,504.07 1330.00,504.46 1330.40,504.68 1330.90,504.65 1331.40,504.04 1331.90,504.62 1332.00,504.29 1332.40,504.13 1332.90,504.87 1334.00,504.63 1336.00,504.73 1338.00,504.21 1340.00,504.85 1342.00,504.96 1344.00,504.94 1346.00,504.81 1348.00,504.90 1350.00,504.88 1352.00,504.69 1354.00,504.56 1356.00,504.91 1358.00,504.88 1360.00,504.96 1362.00,504.45 1364.00,505.05 1366.00,504.67 1368.00,505.04 1370.00,504.30 1372.00,505.07 1374.00,504.91 1376.00,504.43 1378.00,504.96 1380.00,504.42 1382.00,504.39 1384.00,504.63 1386.00,504.43 1388.00,504.66 1390.00,505.04 1392.00,504.84 1394.00,504.86 1396.00,504.58 1398.00,504.94 1400.00,504.95 1402.00,504.85 1404.00,505.08 1406.00,504.98 1408.00,504.61 1410.00,504.32 1412.00,504.83 1414.00,505.00 1416.00,504.55 1418.00,504.78 1420.00,505.00 1422.00,504.97 1424.00,504.26 1426.00,504.70 1428.00,504.27 1430.00,504.36 1432.00,504.99 1434.00,504.64 1436.00,504.81 1438.00,504.68 1440.00,504.57 1442.00,504.46 1444.00,504.59 1446.00,505.03 1448.00,504.83 1450.00,504.54 1452.00,504.36 1454.00,504.52 1456.00,504.91 1458.00,504.68 1460.00,504.88 1462.00,505.01 1464.00,504.40 1466.00,504.91 1468.00,504.33 1470.00,505.03 1472.00,504.46 1474.00,504.54 1476.00,505.16 1478.00,504.63 1480.00,504.50 1482.00,505.11 1484.00,504.86 1486.00,505.11 1488.00,504.66 1490.00,504.76 1492.00,505.17 1494.00,504.77 1496.00,505.21 1498.00,504.49 1500.00,505.07 1502.00,504.47 1504.00,504.80 1506.00,504.32 1508.00,504.48 1510.00,505.18 1512.00,504.74 1514.00,505.06 1516.00,504.56 1518.00,504.65 1520.00,504.43 1522.00,504.83 1524.00,505.11 1526.00,504.80 1528.00,504.68 1530.00,505.18 1532.00,505.15" fill="none" stroke="#0a6632" stroke-width="2.90" stroke-linejoin="round" stroke-linecap="round"/>
<polyline points="94.00,603.45 96.00,603.27 98.00,603.44 100.00,603.39 102.00,603.54 104.00,603.36 106.00,603.46 108.00,603.45 110.00,603.37 112.00,603.42 114.00,603.47 116.00,603.54 118.00,603.41 120.00,603.37 122.00,603.56 124.00,603.29 126.00,603.52 128.00,603.48 130.00,603.44 132.00,603.41 134.00,603.50 136.00,603.54 138.00,603.50 140.00,603.50 142.00,603.29 144.00,603.38 146.00,603.32 148.00,603.57 150.00,603.55 152.00,603.33 154.00,603.46 156.00,603.46 158.00,603.30 160.00,603.41 162.00,603.52 164.00,603.49 166.00,603.38 168.00,603.52 170.00,603.38 172.00,603.46 174.00,603.43 176.00,603.59 178.00,603.50 180.00,603.54 182.00,603.51 184.00,603.42 186.00,603.60 188.00,603.52 190.00,603.52 192.00,603.39 194.00,603.36 196.00,603.49 198.00,603.56 200.00,603.55 202.00,603.42 204.00,603.36 206.00,603.47 208.00,603.58 210.00,603.37 212.00,603.54 214.00,603.38 216.00,603.42 218.00,603.34 220.00,603.42 222.00,603.44 224.00,603.62 226.00,603.62 228.00,603.39 230.00,603.43 232.00,603.62 234.00,603.40 236.00,603.43 238.00,603.47 240.00,603.37 242.00,603.42 244.00,603.46 246.00,603.46 248.00,603.63 250.00,603.43 252.00,603.41 254.00,603.62 256.00,603.49 258.00,603.60 260.00,603.54 262.00,603.59 264.00,603.45 266.00,603.40 268.00,603.59 270.00,603.50 272.00,603.53 274.00,603.56 276.00,603.59 278.00,603.45 280.00,603.47 282.00,603.64 284.00,603.53 286.00,603.46 288.00,603.56 290.00,603.45 292.00,603.60 294.00,603.39 296.00,603.62 298.00,603.55 300.00,603.48 302.00,603.66 304.00,603.46 306.00,603.45 308.00,603.40 310.00,603.55 312.00,603.61 314.00,603.59 316.00,603.51 318.00,603.63 320.00,603.42 322.00,603.48 324.00,603.59 326.00,603.68 328.00,603.59 330.00,603.60 332.00,603.63 334.00,603.52 336.00,603.68 338.00,603.62 340.00,603.50 342.00,603.52 344.00,603.65 346.00,603.51 348.00,603.46 350.00,603.67 352.00,603.57 354.00,603.57 356.00,603.61 358.00,603.68 360.00,603.45 362.00,603.52 364.00,603.44 366.00,603.54 368.00,603.57 370.00,603.68 372.00,603.62 374.00,603.60 376.00,603.55 378.00,603.60 380.00,603.51 382.00,603.68 384.00,603.67 386.00,603.68 388.00,603.48 390.00,603.63 392.00,603.66 394.00,603.59 396.00,603.71 398.00,603.71 400.00,603.66 402.00,603.69 404.00,603.64 406.00,603.71 408.00,603.48 410.00,603.66 412.00,603.66 414.00,603.63 416.00,603.53 418.00,603.47 420.00,603.63 422.00,603.70 424.00,603.53 426.00,603.52 428.00,603.52 430.00,603.48 432.00,603.66 434.00,603.75 436.00,603.70 438.00,603.57 440.00,603.67 442.00,603.48 444.00,603.71 446.00,603.56 448.00,603.47 450.00,603.66 452.00,603.51 454.00,603.55 456.00,603.49 458.00,603.60 460.00,603.64 462.00,603.71 464.00,603.48 466.00,603.72 468.00,603.51 470.00,603.54 472.00,603.66 474.00,603.58 476.00,603.58 478.00,603.65 480.00,603.54 482.00,603.72 484.00,603.54 486.00,603.73 488.00,603.72 490.00,603.64 492.00,603.49 494.00,603.71 496.00,603.49 498.00,603.63 500.00,603.60 502.00,603.50 504.00,603.66 506.00,603.69 508.00,603.65 510.00,603.59 512.00,603.62 514.00,603.63 516.00,603.52 518.00,603.70 520.00,603.73 522.00,603.66 524.00,603.69 526.00,603.48 528.00,603.64 530.00,603.31 532.00,603.36 534.00,603.14 535.80,603.05 536.00,603.09 536.30,603.06 536.80,602.90 537.30,602.76 537.80,602.59 538.00,602.60 538.30,602.47 538.80,602.25 539.30,602.17 539.80,601.80 540.00,601.62 540.30,601.28 540.80,600.82 541.30,599.62 541.80,597.53 542.00,596.20 542.30,593.15 542.80,584.27 543.30,569.04 543.80,548.46 544.00,539.73 544.30,527.96 544.80,518.74 545.30,527.77 545.80,548.24 546.00,556.86 546.30,569.07 546.80,584.20 547.30,593.13 547.80,597.53 548.00,598.59 548.30,599.61 548.80,600.80 549.30,601.52 549.80,601.74 550.00,601.79 550.30,602.01 550.80,602.31 551.30,602.66 551.80,602.78 552.00,602.73 552.30,602.70 552.80,602.80 553.30,602.90 553.80,603.16 554.00,603.09 556.00,603.44 558.00,603.52 560.00,603.56 562.00,603.51 564.00,603.65 566.00,603.47 568.00,603.48 570.00,603.63 572.00,603.63 574.00,603.55 576.00,603.57 578.00,603.51 580.00,603.78 582.00,603.73 584.00,603.80 586.00,603.82 588.00,603.66 590.00,603.75 592.00,603.65 594.00,603.78 596.00,603.79 598.00,603.58 600.00,603.54 602.00,603.61 604.00,603.72 606.00,603.66 608.00,603.55 610.00,603.80 612.00,603.78 614.00,603.69 616.00,603.56 618.00,603.81 620.00,603.71 622.00,603.57 624.00,603.64 626.00,603.73 628.00,603.81 630.00,603.68 632.00,603.73 634.00,603.59 636.00,603.60 638.00,603.78 640.00,603.61 642.00,603.51 644.00,603.63 646.00,603.46 648.00,603.43 650.00,603.42 652.00,603.31 652.50,603.27 653.00,603.23 653.50,603.07 654.00,602.86 654.50,602.95 655.00,602.60 655.50,602.54 656.00,602.29 656.50,602.05 657.00,601.60 657.50,600.66 658.00,599.18 658.50,595.77 659.00,588.91 659.50,577.30 660.00,561.87 660.50,546.28 661.00,539.12 661.50,546.17 662.00,561.90 662.50,577.33 663.00,588.89 663.50,595.80 664.00,599.24 664.50,600.78 665.00,601.61 665.50,601.87 666.00,602.20 666.50,602.70 667.00,602.83 667.50,602.75 668.00,602.87 668.50,603.02 669.00,603.30 669.50,603.16 670.00,603.35 672.00,603.58 674.00,603.58 676.00,603.72 678.00,603.56 680.00,603.55 682.00,603.53 684.00,603.77 686.00,603.59 688.00,603.86 690.00,603.79 692.00,603.64 694.00,603.83 696.00,603.64 698.00,603.75 700.00,603.63 702.00,603.84 704.00,603.88 706.00,603.89 708.00,603.62 710.00,603.87 712.00,603.79 714.00,603.87 716.00,603.78 718.00,603.81 720.00,603.81 722.00,603.87 724.00,603.66 726.00,603.65 728.00,603.80 730.00,603.73 732.00,603.76 734.00,603.64 736.00,603.87 738.00,603.65 740.00,603.90 742.00,603.89 744.00,603.79 746.00,603.69 748.00,603.85 750.00,603.72 752.00,603.78 754.00,603.69 756.00,603.95 758.00,603.82 760.00,603.77 762.00,603.69 764.00,603.88 766.00,603.92 768.00,603.92 770.00,603.70 772.00,603.78 774.00,603.76 776.00,603.90 778.00,603.72 780.00,603.86 782.00,603.97 784.00,603.91 786.00,603.68 788.00,603.70 790.00,603.72 792.00,603.89 794.00,603.86 796.00,603.84 798.00,603.82 800.00,603.81 802.00,603.87 804.00,603.89 806.00,603.97 808.00,603.91 810.00,603.93 812.00,603.97 814.00,603.95 816.00,603.91 818.00,603.71 820.00,603.91 822.00,603.96 824.00,603.83 826.00,603.97 828.00,603.76 830.00,603.99 832.00,603.84 834.00,603.92 836.00,603.79 838.00,603.80 840.00,603.82 842.00,603.81 844.00,603.75 846.00,603.85 848.00,604.01 850.00,603.92 852.00,604.00 854.00,603.95 856.00,603.98 858.00,604.02 860.00,603.95 862.00,603.81 864.00,603.80 866.00,603.85 868.00,603.74 870.00,603.80 872.00,604.00 874.00,604.01 876.00,603.84 878.00,603.97 880.00,603.97 882.00,604.01 884.00,603.98 886.00,603.90 888.00,603.78 890.00,603.99 892.00,603.84 894.00,603.94 896.00,603.86 898.00,603.91 900.00,604.04 902.00,603.80 904.00,603.91 906.00,603.95 908.00,603.92 910.00,604.04 912.00,603.88 914.00,604.03 916.00,603.97 918.00,604.05 920.00,603.79 922.00,603.83 924.00,603.85 926.00,604.04 928.00,603.77 930.00,603.85 932.00,603.99 934.00,604.07 936.00,603.83 938.00,603.91 940.00,603.98 942.00,603.98 944.00,604.00 946.00,604.00 948.00,603.85 950.00,603.86 952.00,603.79 954.00,603.99 956.00,603.85 958.00,603.86 960.00,604.08 962.00,603.98 964.00,603.97 966.00,603.99 968.00,603.97 970.00,604.00 972.00,603.88 974.00,603.81 976.00,603.81 978.00,603.80 980.00,603.90 982.00,603.84 984.00,603.83 986.00,603.94 988.00,604.08 990.00,604.00 992.00,603.88 994.00,604.02 996.00,603.84 998.00,603.82 1000.00,603.88 1002.00,603.91 1004.00,603.99 1006.00,603.91 1008.00,603.98 1010.00,603.78 1012.00,604.02 1014.00,603.82 1016.00,603.93 1018.00,603.63 1019.70,603.79 1020.00,603.59 1020.20,603.76 1020.70,603.71 1021.20,603.62 1021.70,603.44 1022.00,603.32 1022.20,603.34 1022.70,603.47 1023.20,603.13 1023.70,603.13 1024.00,603.00 1024.20,602.93 1024.70,602.49 1025.20,601.98 1025.70,600.96 1026.00,600.14 1026.20,598.90 1026.70,594.71 1027.20,587.46 1027.70,577.53 1028.00,571.33 1028.20,567.73 1028.70,563.59 1029.20,567.77 1029.70,577.75 1030.00,583.69 1030.20,587.51 1030.70,594.56 1031.20,599.03 1031.70,601.01 1032.00,601.74 1032.20,602.10 1032.70,602.48 1033.20,602.81 1033.70,603.18 1034.00,603.12 1034.20,603.20 1034.70,603.43 1035.20,603.36 1035.70,603.42 1036.00,603.47 1036.20,603.54 1036.70,603.58 1037.20,603.71 1037.70,603.69 1038.00,603.83 1040.00,603.67 1042.00,603.91 1044.00,603.99 1046.00,603.84 1048.00,603.79 1050.00,603.93 1052.00,603.84 1054.00,603.95 1056.00,604.03 1058.00,603.85 1060.00,603.86 1062.00,603.98 1064.00,603.89 1066.00,603.91 1068.00,603.97 1070.00,603.88 1072.00,603.87 1074.00,603.96 1076.00,603.99 1078.00,604.14 1080.00,604.02 1082.00,603.88 1084.00,603.93 1086.00,604.09 1088.00,604.03 1090.00,604.13 1092.00,604.16 1094.00,604.13 1096.00,603.90 1098.00,604.15 1100.00,604.03 1102.00,603.95 1104.00,603.93 1106.00,604.14 1108.00,603.94 1110.00,603.91 1112.00,603.96 1114.00,604.16 1116.00,604.02 1118.00,604.11 1120.00,603.91 1122.00,604.02 1124.00,603.99 1126.00,603.95 1128.00,604.09 1130.00,604.00 1132.00,603.93 1134.00,604.19 1136.00,604.04 1138.00,603.95 1140.00,603.90 1142.00,604.10 1144.00,604.06 1146.00,603.91 1148.00,604.05 1150.00,604.13 1152.00,604.07 1154.00,603.98 1156.00,604.06 1158.00,604.09 1160.00,604.11 1162.00,603.96 1164.00,604.16 1166.00,604.20 1168.00,604.14 1170.00,604.17 1172.00,604.03 1174.00,604.19 1176.00,603.97 1178.00,603.99 1180.00,604.10 1182.00,604.19 1184.00,603.95 1186.00,603.99 1188.00,603.94 1190.00,604.06 1192.00,603.97 1194.00,603.99 1196.00,604.15 1198.00,604.10 1200.00,604.21 1202.00,604.05 1204.00,604.13 1206.00,603.93 1208.00,604.22 1210.00,604.00 1212.00,604.07 1214.00,604.08 1216.00,604.21 1218.00,604.08 1220.00,604.22 1222.00,604.11 1224.00,603.99 1226.00,604.17 1228.00,603.97 1230.00,604.20 1232.00,604.03 1234.00,603.95 1236.00,604.15 1238.00,603.93 1240.00,603.91 1242.00,603.82 1243.80,603.82 1244.00,603.61 1244.30,603.69 1244.80,603.57 1245.30,603.72 1245.80,603.40 1246.00,603.55 1246.30,603.39 1246.80,603.34 1247.30,603.23 1247.80,603.10 1248.00,602.84 1248.30,602.71 1248.80,602.29 1249.30,601.84 1249.80,600.21 1250.00,599.31 1250.30,597.55 1250.80,592.54 1251.30,584.85 1251.80,574.74 1252.00,570.80 1252.30,565.54 1252.80,561.65 1253.30,565.63 1253.80,574.85 1254.00,579.06 1254.30,584.78 1254.80,592.63 1255.30,597.68 1255.80,600.25 1256.00,601.13 1256.30,601.68 1256.80,602.27 1257.30,602.92 1257.80,602.92 1258.00,602.97 1258.30,603.16 1258.80,603.29 1259.30,603.61 1259.80,603.67 1260.00,603.56 1260.30,603.63 1260.80,603.79 1261.30,603.83 1261.80,603.82 1262.00,603.79 1264.00,603.78 1266.00,603.89 1268.00,604.05 1270.00,604.06 1272.00,604.14 1274.00,604.19 1276.00,604.22 1278.00,604.00 1280.00,603.97 1282.00,604.22 1284.00,604.13 1286.00,604.02 1288.00,604.17 1290.00,604.04 1292.00,604.04 1294.00,604.08 1296.00,604.13 1298.00,604.17 1300.00,603.99 1302.00,604.19 1304.00,604.15 1306.00,604.10 1308.00,604.15 1310.00,604.16 1311.80,603.90 1312.00,604.03 1312.30,604.08 1312.80,604.08 1313.30,604.04 1313.80,603.88 1314.00,604.10 1314.30,604.03 1314.80,603.84 1315.30,603.85 1315.80,603.95 1316.00,603.70 1316.30,603.71 1316.80,603.76 1317.30,603.52 1317.80,602.89 1318.00,602.76 1318.30,602.06 1318.80,600.58 1319.30,598.17 1319.80,594.90 1320.00,593.67 1320.30,592.03 1320.80,590.79 1321.30,591.98 1321.80,594.90 1322.00,596.26 1322.30,598.07 1322.80,600.40 1323.30,602.13 1323.80,603.11 1324.00,603.21 1324.30,603.36 1324.80,603.69 1325.30,603.73 1325.80,603.73 1326.00,603.84 1326.30,603.74 1326.80,603.98 1327.30,603.86 1327.80,603.95 1328.00,604.14 1328.30,604.09 1328.80,604.13 1329.30,604.09 1329.80,604.10 1330.00,604.12 1332.00,604.24 1334.00,604.03 1336.00,604.21 1338.00,604.08 1340.00,604.08 1342.00,604.25 1344.00,604.19 1346.00,604.27 1348.00,604.28 1350.00,604.20 1352.00,604.08 1354.00,604.03 1356.00,604.19 1358.00,604.25 1360.00,604.12 1362.00,604.06 1364.00,604.04 1366.00,604.09 1368.00,604.25 1370.00,604.04 1372.00,604.11 1374.00,604.13 1376.00,604.26 1378.00,604.34 1380.00,604.06 1382.00,604.09 1384.00,604.33 1386.00,604.35 1388.00,604.10 1390.00,604.16 1392.00,604.22 1394.00,604.16 1396.00,604.19 1398.00,604.21 1400.00,604.14 1402.00,604.08 1404.00,604.09 1406.00,604.12 1408.00,604.10 1410.00,604.26 1412.00,604.28 1414.00,604.15 1416.00,604.31 1418.00,604.29 1420.00,604.18 1422.00,604.23 1424.00,604.14 1426.00,604.36 1428.00,604.25 1430.00,604.10 1432.00,604.13 1434.00,604.29 1436.00,604.20 1438.00,604.30 1440.00,604.16 1442.00,604.33 1444.00,604.33 1446.00,604.12 1448.00,604.27 1450.00,604.15 1452.00,604.31 1454.00,604.34 1456.00,604.34 1458.00,604.17 1460.00,604.13 1462.00,604.30 1464.00,604.28 1466.00,604.15 1468.00,604.17 1470.00,604.28 1472.00,604.14 1474.00,604.30 1476.00,604.19 1478.00,604.19 1480.00,604.24 1482.00,604.28 1484.00,604.34 1486.00,604.13 1488.00,604.34 1490.00,604.19 1492.00,604.21 1494.00,604.32 1496.00,604.33 1498.00,604.31 1500.00,604.40 1502.00,604.19 1504.00,604.22 1506.00,604.33 1508.00,604.21 1510.00,604.18 1512.00,604.20 1514.00,604.37 1516.00,604.39 1518.00,604.36 1520.00,604.43 1522.00,604.38 1524.00,604.24 1526.00,604.24 1528.00,604.36 1530.00,604.16 1532.00,604.33" fill="none" stroke="#cc08a8" stroke-width="2.90" stroke-linejoin="round" stroke-linecap="round"/>
<polyline points="94.00,711.80 535.40,711.80 538.77,703.22 542.90,626.00 547.02,703.22 550.40,711.80 651.50,711.80 654.65,707.20 658.50,665.80 662.35,707.20 665.50,711.80 1018.70,711.80 1021.85,708.34 1025.70,677.20 1029.55,708.34 1032.70,711.80 1242.70,711.80 1245.85,709.04 1249.70,684.20 1253.55,709.04 1256.70,711.80 1312.60,711.80 1315.30,710.94 1318.60,703.20 1321.90,710.94 1324.60,711.80 1532.00,711.80" fill="none" stroke="#119b9b" stroke-width="3.00" stroke-linejoin="round" stroke-linecap="round"/>
<polyline points="94.00,814.50 102.00,814.50 110.00,814.50 118.00,814.50 126.00,814.50 134.00,814.50 142.00,814.50 150.00,814.50 158.00,814.50 166.00,814.51 174.00,814.51 182.00,814.51 190.00,814.51 198.00,814.51 206.00,814.51 214.00,814.51 222.00,814.51 230.00,814.51 238.00,814.51 246.00,814.51 254.00,814.51 262.00,814.51 270.00,814.51 278.00,814.51 286.00,814.51 294.00,814.51 302.00,814.51 310.00,814.52 318.00,814.52 326.00,814.52 334.00,814.52 342.00,814.52 350.00,814.52 358.00,814.52 366.00,814.52 374.00,814.52 382.00,814.52 390.00,814.52 398.00,814.52 406.00,814.52 414.00,814.52 422.00,814.52 430.00,814.52 438.00,814.52 446.00,814.52 454.00,814.53 462.00,814.53 470.00,814.53 478.00,814.53 486.00,814.53 494.00,814.53 502.00,814.53 510.00,814.53 518.00,814.53 526.00,814.53 534.00,814.53 542.00,814.53 550.00,814.53 558.00,814.53 566.00,814.53 572.80,814.50 574.00,814.43 574.30,814.39 575.80,813.95 577.30,812.54 578.80,808.78 580.30,800.59 581.80,786.13 582.00,783.71 583.30,765.88 584.80,744.47 586.30,729.73 587.20,727.03 587.80,728.24 589.30,740.72 590.00,749.87 590.80,761.46 592.30,782.46 593.80,798.24 595.30,807.57 596.80,812.04 598.00,813.56 598.30,813.78 599.80,814.34 601.30,814.49 606.00,814.54 614.00,814.54 622.00,814.54 630.00,814.54 638.00,814.54 646.00,814.54 654.00,814.54 662.00,814.54 670.00,814.54 678.00,814.54 686.00,814.54 694.00,814.54 697.30,814.53 698.80,814.50 700.30,814.35 701.80,813.83 702.00,813.71 703.30,812.41 704.80,809.37 706.30,804.31 707.80,798.09 709.30,793.01 710.00,791.81 710.50,791.54 710.80,791.64 712.30,794.72 713.80,800.59 715.30,806.56 716.80,810.83 718.00,812.81 718.30,813.14 719.80,814.11 721.30,814.44 722.80,814.52 726.00,814.54 734.00,814.54 742.00,814.55 750.00,814.55 758.00,814.55 766.00,814.55 774.00,814.55 782.00,814.55 790.00,814.55 798.00,814.55 806.00,814.55 814.00,814.55 822.00,814.55 830.00,814.55 838.00,814.55 846.00,814.55 854.00,814.55 862.00,814.55 870.00,814.55 878.00,814.55 886.00,814.56 894.00,814.56 902.00,814.56 910.00,814.56 918.00,814.56 926.00,814.56 934.00,814.56 942.00,814.56 950.00,814.56 958.00,814.56 966.00,814.56 974.00,814.56 982.00,814.56 990.00,814.56 998.00,814.56 1006.00,814.56 1014.00,814.56 1022.00,814.56 1030.00,814.57 1038.00,814.57 1046.00,814.57 1054.00,814.57 1062.00,814.57 1070.00,814.57 1078.00,814.57 1086.00,814.57 1089.30,814.55 1090.80,814.48 1092.30,814.16 1093.80,813.11 1094.00,812.86 1095.30,810.25 1096.80,804.07 1098.30,793.55 1099.80,779.92 1101.30,767.57 1102.00,763.88 1102.80,762.09 1102.90,762.07 1104.30,766.34 1105.80,778.08 1107.30,791.85 1108.80,802.92 1110.00,808.64 1110.30,809.66 1111.80,812.86 1113.30,814.08 1114.80,814.46 1116.30,814.55 1118.00,814.57 1126.00,814.57 1134.00,814.57 1142.00,814.57 1150.00,814.57 1158.00,814.57 1166.00,814.57 1174.00,814.58 1182.00,814.58 1190.00,814.58 1198.00,814.58 1206.00,814.58 1214.00,814.58 1222.00,814.58 1230.00,814.58 1238.00,814.58 1246.00,814.58 1254.00,814.58 1262.00,814.58 1270.00,814.58 1278.00,814.58 1286.00,814.58 1294.00,814.58 1302.00,814.58 1310.00,814.58 1318.00,814.59 1326.00,814.59 1328.80,814.57 1330.30,814.52 1331.80,814.30 1333.30,813.56 1334.00,812.85 1334.80,811.57 1336.30,807.25 1337.80,799.89 1339.30,790.37 1340.80,781.73 1342.00,778.14 1342.30,777.90 1342.40,777.89 1343.80,780.87 1345.30,789.08 1346.80,798.70 1348.30,806.44 1349.80,811.15 1350.00,811.57 1351.30,813.39 1352.80,814.25 1354.30,814.51 1355.80,814.57 1358.00,814.59 1366.00,814.59 1374.00,814.59 1382.00,814.59 1390.00,814.59 1398.00,814.59 1400.40,814.59 1401.90,814.58 1403.40,814.57 1404.90,814.51 1406.00,814.42 1406.40,814.37 1407.90,814.07 1409.40,813.51 1410.90,812.65 1412.40,811.56 1413.90,810.48 1414.00,810.42 1415.40,809.75 1416.40,809.59 1416.90,809.63 1418.40,810.18 1419.90,811.18 1421.40,812.30 1422.00,812.72 1422.90,813.26 1424.40,813.92 1425.90,814.29 1427.40,814.48 1428.90,814.55 1430.00,814.58 1430.40,814.58 1431.90,814.59 1438.00,814.59 1446.00,814.59 1454.00,814.59 1462.00,814.60 1470.00,814.60 1478.00,814.60 1486.00,814.60 1494.00,814.60 1502.00,814.60 1510.00,814.60 1518.00,814.60 1526.00,814.60 1532.00,814.60" fill="none" stroke="#999900" stroke-width="3.00" stroke-linejoin="round" stroke-linecap="round"/>
<polyline points="1569.40,215.08 1578.00,210.10 1586.10,206.63 1593.00,200.80 1601.00,196.26 1608.00,192.25 1616.00,186.02 1619.00,179.40 1623.40,172.34 1630.00,166.01 1637.30,159.74 1643.00,165.73 1649.40,175.33 1655.00,181.06 1660.60,188.55 1665.00,192.21 1670.00,197.34" fill="none" stroke="#707070" stroke-width="2.90" stroke-linejoin="round" stroke-linecap="round"/>
<polyline points="1568.50,306.70 1582.00,305.50 1595.50,304.30 1605.00,302.50 1614.00,300.60 1626.70,296.90 1632.00,300.00 1638.30,303.40 1651.30,306.20 1660.00,307.00 1670.00,308.00" fill="none" stroke="#d20a0a" stroke-width="2.60" stroke-linejoin="round" stroke-linecap="round"/>
<polyline points="1569.00,399.00 1585.00,398.30 1601.50,397.50 1614.00,396.50 1626.00,395.20 1641.70,399.00 1656.00,400.30 1670.80,401.30" fill="none" stroke="#0c0c96" stroke-width="2.60" stroke-linejoin="round" stroke-linecap="round"/>
<polyline points="1569.00,502.00 1579.00,503.10 1601.50,502.70 1623.80,501.50 1646.20,502.20 1670.80,503.10" fill="none" stroke="#0a6632" stroke-width="2.60" stroke-linejoin="round" stroke-linecap="round"/>
<polyline points="1569.00,604.30 1670.80,604.30" fill="none" stroke="#cc08a8" stroke-width="2.60" stroke-linejoin="round" stroke-linecap="round"/>
<polyline points="1569.00,712.80 1670.80,712.80" fill="none" stroke="#119b9b" stroke-width="2.60" stroke-linejoin="round" stroke-linecap="round"/>
<polyline points="1569.00,814.50 1620.50,814.30 1623.80,813.10 1627.00,811.50 1630.50,808.60 1636.00,780.70 1640.00,745.00 1642.90,727.50 1651.80,728.50 1655.00,755.00 1658.50,780.70 1664.00,808.60 1670.00,814.00" fill="none" stroke="#999900" stroke-width="2.60" stroke-linejoin="round" stroke-linecap="round"/>
<line x1="1636.40" y1="174.00" x2="1627.60" y2="276.00" stroke="#999900" stroke-width="2.40" stroke-dasharray="11 7.5"/>
<path d="M1626.7,288.5 L1621.5,269 L1627.5,277.3 L1635.5,269.9 Z" fill="#999900"/>
<line x1="115.00" y1="166.00" x2="167.40" y2="166.00" stroke="#707070" stroke-width="3.00"/>
<line x1="111.80" y1="263.80" x2="164.20" y2="263.80" stroke="#d20a0a" stroke-width="3.00"/>
<line x1="111.80" y1="359.90" x2="164.20" y2="359.90" stroke="#0c0c96" stroke-width="3.00"/>
<line x1="111.80" y1="455.60" x2="164.20" y2="455.60" stroke="#0a6632" stroke-width="3.00"/>
<line x1="111.80" y1="555.00" x2="164.20" y2="555.00" stroke="#cc08a8" stroke-width="3.00"/>
<line x1="113.40" y1="665.10" x2="166.80" y2="665.10" stroke="#119b9b" stroke-width="3.00"/>
<line x1="113.40" y1="771.30" x2="166.80" y2="771.30" stroke="#999900" stroke-width="3.00"/>
<text transform="translate(172.65,174.90) scale(1.0217,1)" fill="#111" font-size="32.80"><tspan x="0.00" y="0.00">Li</tspan><tspan x="25.53" y="5.58" font-size="21.65">2</tspan><tspan x="37.56" y="0.00">S_liq</tspan></text>
<text transform="translate(169.48,273.00) scale(0.9780,1)" fill="#111" font-size="33.66"><tspan x="0.00" y="0.00">5Li</tspan><tspan x="44.91" y="5.72" font-size="22.21">2</tspan><tspan x="57.27" y="0.00">S-LiI_liq</tspan></text>
<text transform="translate(169.55,368.80) scale(0.9776,1)" fill="#111" font-size="33.66"><tspan x="0.00" y="0.00">3Li</tspan><tspan x="44.91" y="5.72" font-size="22.21">2</tspan><tspan x="57.27" y="0.00">S-LiI_liq</tspan></text>
<text transform="translate(168.28,463.50) scale(0.9848,1)" fill="#111" font-size="33.66"><tspan x="0.00" y="0.00">1Li</tspan><tspan x="44.91" y="5.72" font-size="22.21">2</tspan><tspan x="57.27" y="0.00">S-LiI_liq</tspan></text>
<text transform="translate(168.45,563.50) scale(0.9803,1)" fill="#111" font-size="34.16"><tspan x="0.00" y="0.00">LiI_liq</tspan></text>
<text transform="translate(170.38,673.80) scale(0.9854,1)" fill="#111" font-size="33.66"><tspan x="0.00" y="0.00">LiI_ICSD</tspan></text>
<text transform="translate(170.39,780.50) scale(0.9830,1)" fill="#111" font-size="33.66"><tspan x="0.00" y="0.00">Li</tspan><tspan x="26.20" y="5.72" font-size="22.21">2</tspan><tspan x="38.55" y="0.00">S_ICSD</tspan></text>
<text transform="translate(501.40,151.30) scale(0.9231,1)" fill="#999900" font-size="36.92"><tspan x="0.00" y="0.00">111</tspan></text>
<text transform="translate(725.88,151.60) scale(1.0557,1)" fill="#999900" font-size="34.37"><tspan x="0.00" y="0.00">200</tspan></text>
<text transform="translate(1017.84,151.60) scale(1.0741,1)" fill="#999900" font-size="34.37"><tspan x="0.00" y="0.00">220</tspan></text>
<text transform="translate(1266.72,152.20) scale(0.9473,1)" fill="#999900" font-size="35.37"><tspan x="0.00" y="0.00">311</tspan></text>
<text transform="translate(1576.13,147.00) scale(0.9036,1)" fill="#999900" font-size="37.36"><tspan x="0.00" y="0.00">111</tspan></text>
<text transform="translate(57.81,29.90) scale(1.0153,1)" fill="#000" font-size="34.80"><tspan x="0.00" y="0.00">(a)</tspan></text>
<text transform="translate(76.05,859.00) scale(1.0341,1)" fill="#111" font-size="33.66"><tspan x="0.00" y="0.00">10</tspan></text>
<text transform="translate(361.16,859.00) scale(1.0863,1)" fill="#111" font-size="33.66"><tspan x="0.00" y="0.00">20</tspan></text>
<text transform="translate(648.22,859.00) scale(1.0735,1)" fill="#111" font-size="33.66"><tspan x="0.00" y="0.00">30</tspan></text>
<text transform="translate(936.68,859.00) scale(1.0609,1)" fill="#111" font-size="33.66"><tspan x="0.00" y="0.00">40</tspan></text>
<text transform="translate(1224.05,859.00) scale(1.0784,1)" fill="#111" font-size="33.66"><tspan x="0.00" y="0.00">50</tspan></text>
<text transform="translate(1511.14,859.00) scale(1.0868,1)" fill="#111" font-size="33.66"><tspan x="0.00" y="0.00">60</tspan></text>
<text transform="translate(1573.86,859.00) scale(1.0849,1)" fill="#111" font-size="33.66"><tspan x="0.00" y="0.00">26.75</tspan></text>
<text transform="translate(768.79,886.70) scale(1.0456,1)" fill="#111" font-size="36.38"><tspan x="0.00" y="0.00">2</tspan><tspan x="20.23" y="0.00" font-style="italic">θ</tspan><tspan x="39.97" y="0.00"> / °</tspan></text>
<text transform="translate(60.60,597.63) rotate(-90) scale(0.9811,1)" fill="#111" font-size="36.80"><tspan x="0.00" y="0.00">Intensity (arb.u.)</tspan></text>
<line x1="174.00" y1="976.80" x2="843.30" y2="976.80" stroke="#000" stroke-width="2.40" stroke-linecap="square"/>
<line x1="174.00" y1="1641.00" x2="843.30" y2="1641.00" stroke="#000" stroke-width="2.40" stroke-linecap="square"/>
<line x1="174.00" y1="976.80" x2="174.00" y2="1297.00" stroke="#000" stroke-width="2.40"/>
<line x1="174.00" y1="1321.20" x2="174.00" y2="1641.00" stroke="#000" stroke-width="2.40"/>
<line x1="843.30" y1="976.80" x2="843.30" y2="1297.50" stroke="#000" stroke-width="2.40"/>
<line x1="843.30" y1="1321.30" x2="843.30" y2="1641.00" stroke="#000" stroke-width="2.40"/>
<line x1="167.50" y1="1294.30" x2="179.50" y2="1300.50" stroke="#000" stroke-width="2.40"/>
<line x1="167.50" y1="1317.80" x2="179.50" y2="1324.00" stroke="#000" stroke-width="2.40"/>
<line x1="174.00" y1="976.80" x2="188.00" y2="976.80" stroke="#000" stroke-width="2.40"/>
<line x1="174.00" y1="1059.00" x2="188.00" y2="1059.00" stroke="#000" stroke-width="2.40"/>
<line x1="174.00" y1="1141.20" x2="188.00" y2="1141.20" stroke="#000" stroke-width="2.40"/>
<line x1="174.00" y1="1223.40" x2="188.00" y2="1223.40" stroke="#000" stroke-width="2.40"/>
<line x1="174.00" y1="1017.90" x2="181.50" y2="1017.90" stroke="#000" stroke-width="2.40"/>
<line x1="174.00" y1="1100.10" x2="181.50" y2="1100.10" stroke="#000" stroke-width="2.40"/>
<line x1="174.00" y1="1182.30" x2="181.50" y2="1182.30" stroke="#000" stroke-width="2.40"/>
<line x1="174.00" y1="1264.50" x2="181.50" y2="1264.50" stroke="#000" stroke-width="2.40"/>
<line x1="174.00" y1="1329.10" x2="196.60" y2="1329.10" stroke="#000" stroke-width="2.40"/>
<line x1="174.00" y1="1411.35" x2="196.60" y2="1411.35" stroke="#000" stroke-width="2.40"/>
<line x1="174.00" y1="1493.60" x2="196.60" y2="1493.60" stroke="#000" stroke-width="2.40"/>
<line x1="174.00" y1="1575.85" x2="196.60" y2="1575.85" stroke="#000" stroke-width="2.40"/>
<line x1="174.00" y1="1370.22" x2="185.50" y2="1370.22" stroke="#000" stroke-width="2.40"/>
<line x1="174.00" y1="1452.47" x2="185.50" y2="1452.47" stroke="#000" stroke-width="2.40"/>
<line x1="174.00" y1="1534.72" x2="185.50" y2="1534.72" stroke="#000" stroke-width="2.40"/>
<line x1="174.00" y1="1616.97" x2="185.50" y2="1616.97" stroke="#000" stroke-width="2.40"/>
<text transform="translate(104.17,985.60) scale(1.0034,1)" fill="#000" font-size="31.94"><tspan x="0.00" y="0.00">6.05</tspan></text>
<text transform="translate(104.18,1067.80) scale(1.0019,1)" fill="#000" font-size="31.94"><tspan x="0.00" y="0.00">6.00</tspan></text>
<text transform="translate(104.52,1150.00) scale(0.9977,1)" fill="#000" font-size="31.94"><tspan x="0.00" y="0.00">5.95</tspan></text>
<text transform="translate(104.53,1232.20) scale(0.9961,1)" fill="#000" font-size="31.94"><tspan x="0.00" y="0.00">5.90</tspan></text>
<text transform="translate(99.62,1338.00) scale(1.0321,1)" fill="#000" font-size="31.08"><tspan x="0.00" y="0.00">5.85</tspan></text>
<text transform="translate(99.62,1420.25) scale(1.0305,1)" fill="#000" font-size="31.08"><tspan x="0.00" y="0.00">5.80</tspan></text>
<text transform="translate(99.62,1502.50) scale(1.0170,1)" fill="#000" font-size="31.54"><tspan x="0.00" y="0.00">5.75</tspan></text>
<text transform="translate(99.62,1584.75) scale(1.0305,1)" fill="#000" font-size="31.08"><tspan x="0.00" y="0.00">5.70</tspan></text>
<line x1="221.50" y1="1641.00" x2="221.50" y2="1630.00" stroke="#000" stroke-width="2.40"/>
<line x1="317.30" y1="1641.00" x2="317.30" y2="1630.00" stroke="#000" stroke-width="2.40"/>
<line x1="413.10" y1="1641.00" x2="413.10" y2="1630.00" stroke="#000" stroke-width="2.40"/>
<line x1="508.60" y1="1641.00" x2="508.60" y2="1630.00" stroke="#000" stroke-width="2.40"/>
<line x1="604.30" y1="1641.00" x2="604.30" y2="1630.00" stroke="#000" stroke-width="2.40"/>
<line x1="700.00" y1="1641.00" x2="700.00" y2="1630.00" stroke="#000" stroke-width="2.40"/>
<line x1="795.70" y1="1641.00" x2="795.70" y2="1630.00" stroke="#000" stroke-width="2.40"/>
<text transform="translate(159.39,1679.10) scale(1.0365,1)" fill="#000" font-size="21.34"><tspan x="0.00" y="0.00">Li</tspan><tspan x="16.61" y="3.95" font-size="14.51">2</tspan><tspan x="24.68" y="0.00">S_ICSD</tspan></text>
<text transform="translate(284.76,1679.10) scale(1.0491,1)" fill="#000" font-size="21.34"><tspan x="0.00" y="0.00">Li</tspan><tspan x="16.61" y="3.95" font-size="14.51">2</tspan><tspan x="24.68" y="0.00">S_liq</tspan></text>
<text transform="translate(376.80,1679.10) scale(1.0477,1)" fill="#000" font-size="21.34"><tspan x="0.00" y="0.00">5Li</tspan><tspan x="28.48" y="3.95" font-size="14.51">2</tspan><tspan x="36.55" y="0.00">S-LiI</tspan></text>
<text transform="translate(475.96,1679.10) scale(1.0381,1)" fill="#000" font-size="21.34"><tspan x="0.00" y="0.00">3Li</tspan><tspan x="28.48" y="3.95" font-size="14.51">2</tspan><tspan x="36.55" y="0.00">S-LiI</tspan></text>
<text transform="translate(570.31,1679.10) scale(1.0426,1)" fill="#000" font-size="21.34"><tspan x="0.00" y="0.00">1Li</tspan><tspan x="28.48" y="3.95" font-size="14.51">2</tspan><tspan x="36.55" y="0.00">S-LiI</tspan></text>
<text transform="translate(674.23,1679.10) scale(1.0501,1)" fill="#000" font-size="21.66"><tspan x="0.00" y="0.00">LiI_liq</tspan></text>
<text transform="translate(754.36,1679.10) scale(1.0494,1)" fill="#000" font-size="21.34"><tspan x="0.00" y="0.00">LiI_ICSD</tspan></text>
<text transform="translate(450.57,1725.50) scale(1.0233,1)" fill="#000" font-size="30.79"><tspan x="0.00" y="0.00">Sample</tspan></text>
<text transform="translate(76.80,1458.38) rotate(-90) scale(0.9587,1)" fill="#000" font-size="32.85"><tspan x="0.00" y="0.00">Lattice parameter </tspan><tspan x="264.76" y="0.00" font-style="italic">α</tspan><tspan x="283.49" y="0.00"> / Å</tspan></text>
<text transform="translate(-0.99,974.30) scale(1.0624,1)" fill="#000" font-size="34.80"><tspan x="0.00" y="0.00">(b)</tspan></text>
<polyline points="412.70,1019.20 508.60,1021.00 604.10,1022.70 700.00,1017.80 795.00,1017.80" fill="none" stroke="#0e9999" stroke-width="3.30" stroke-linejoin="round" stroke-linecap="round"/>
<line x1="412.70" y1="1010.70" x2="412.70" y2="1027.70" stroke="#0e9999" stroke-width="2.20"/>
<line x1="404.70" y1="1010.70" x2="420.70" y2="1010.70" stroke="#0e9999" stroke-width="2.20"/>
<line x1="404.70" y1="1027.70" x2="420.70" y2="1027.70" stroke="#0e9999" stroke-width="2.20"/>
<circle cx="412.70" cy="1019.20" r="6.4" fill="#0e9999"/>
<line x1="508.60" y1="1012.50" x2="508.60" y2="1029.50" stroke="#0e9999" stroke-width="2.20"/>
<line x1="500.60" y1="1012.50" x2="516.60" y2="1012.50" stroke="#0e9999" stroke-width="2.20"/>
<line x1="500.60" y1="1029.50" x2="516.60" y2="1029.50" stroke="#0e9999" stroke-width="2.20"/>
<circle cx="508.60" cy="1021.00" r="6.4" fill="#0e9999"/>
<line x1="604.10" y1="1014.20" x2="604.10" y2="1031.20" stroke="#0e9999" stroke-width="2.20"/>
<line x1="596.10" y1="1014.20" x2="612.10" y2="1014.20" stroke="#0e9999" stroke-width="2.20"/>
<line x1="596.10" y1="1031.20" x2="612.10" y2="1031.20" stroke="#0e9999" stroke-width="2.20"/>
<circle cx="604.10" cy="1022.70" r="6.4" fill="#0e9999"/>
<line x1="700.00" y1="1009.30" x2="700.00" y2="1026.30" stroke="#0e9999" stroke-width="2.20"/>
<line x1="692.00" y1="1009.30" x2="708.00" y2="1009.30" stroke="#0e9999" stroke-width="2.20"/>
<line x1="692.00" y1="1026.30" x2="708.00" y2="1026.30" stroke="#0e9999" stroke-width="2.20"/>
<circle cx="700.00" cy="1017.80" r="6.4" fill="#0e9999"/>
<line x1="795.00" y1="1009.30" x2="795.00" y2="1026.30" stroke="#0e9999" stroke-width="2.20"/>
<line x1="787.00" y1="1009.30" x2="803.00" y2="1009.30" stroke="#0e9999" stroke-width="2.20"/>
<line x1="787.00" y1="1026.30" x2="803.00" y2="1026.30" stroke="#0e9999" stroke-width="2.20"/>
<circle cx="795.00" cy="1017.80" r="6.4" fill="#0e9999"/>
<polyline points="221.50,1593.90 317.30,1592.40 413.10,1508.50 508.60,1508.00 604.10,1508.00" fill="none" stroke="#999900" stroke-width="3.30" stroke-linejoin="round" stroke-linecap="round"/>
<line x1="221.50" y1="1586.00" x2="221.50" y2="1602.00" stroke="#999900" stroke-width="2.20"/>
<line x1="213.50" y1="1586.00" x2="229.50" y2="1586.00" stroke="#999900" stroke-width="2.20"/>
<line x1="213.50" y1="1602.00" x2="229.50" y2="1602.00" stroke="#999900" stroke-width="2.20"/>
<circle cx="221.50" cy="1593.90" r="6.4" fill="#999900"/>
<line x1="317.30" y1="1583.60" x2="317.30" y2="1600.50" stroke="#999900" stroke-width="2.20"/>
<line x1="309.30" y1="1583.60" x2="325.30" y2="1583.60" stroke="#999900" stroke-width="2.20"/>
<line x1="309.30" y1="1600.50" x2="325.30" y2="1600.50" stroke="#999900" stroke-width="2.20"/>
<circle cx="317.30" cy="1592.40" r="6.4" fill="#999900"/>
<line x1="413.10" y1="1500.40" x2="413.10" y2="1516.90" stroke="#999900" stroke-width="2.20"/>
<line x1="405.10" y1="1500.40" x2="421.10" y2="1500.40" stroke="#999900" stroke-width="2.20"/>
<line x1="405.10" y1="1516.90" x2="421.10" y2="1516.90" stroke="#999900" stroke-width="2.20"/>
<circle cx="413.10" cy="1508.50" r="6.4" fill="#999900"/>
<line x1="508.60" y1="1500.00" x2="508.60" y2="1516.60" stroke="#999900" stroke-width="2.20"/>
<line x1="500.60" y1="1500.00" x2="516.60" y2="1500.00" stroke="#999900" stroke-width="2.20"/>
<line x1="500.60" y1="1516.60" x2="516.60" y2="1516.60" stroke="#999900" stroke-width="2.20"/>
<circle cx="508.60" cy="1508.00" r="6.4" fill="#999900"/>
<line x1="604.10" y1="1500.00" x2="604.10" y2="1516.60" stroke="#999900" stroke-width="2.20"/>
<line x1="596.10" y1="1500.00" x2="612.10" y2="1500.00" stroke="#999900" stroke-width="2.20"/>
<line x1="596.10" y1="1516.60" x2="612.10" y2="1516.60" stroke="#999900" stroke-width="2.20"/>
<circle cx="604.10" cy="1508.00" r="6.4" fill="#999900"/>
<line x1="301.10" y1="1170.20" x2="349.40" y2="1170.20" stroke="#0e9999" stroke-width="3.20"/>
<circle cx="325.3" cy="1170.2" r="6.4" fill="#0e9999"/>
<text transform="translate(361.61,1178.60) scale(0.9580,1)" fill="#0e9999" font-size="32.99"><tspan x="0.00" y="0.00">LiI Phase</tspan></text>
<line x1="294.30" y1="1385.40" x2="342.70" y2="1385.40" stroke="#999900" stroke-width="3.20"/>
<circle cx="318.6" cy="1385.4" r="6.4" fill="#999900"/>
<text transform="translate(355.20,1393.80) scale(1.0088,1)" fill="#999900" font-size="31.36"><tspan x="0.00" y="0.00">Li</tspan><tspan x="24.41" y="5.80" font-size="21.33">2</tspan><tspan x="36.27" y="0.00">S Phase</tspan></text>
<rect x="1007.2" y="973.2" width="675.0" height="675.5" fill="none" stroke="#000" stroke-width="2.4"/>
<line x1="1007.20" y1="985.50" x2="1022.30" y2="985.50" stroke="#000" stroke-width="2.40"/>
<line x1="1007.20" y1="1066.92" x2="1022.30" y2="1066.92" stroke="#000" stroke-width="2.40"/>
<line x1="1007.20" y1="1148.34" x2="1022.30" y2="1148.34" stroke="#000" stroke-width="2.40"/>
<line x1="1007.20" y1="1229.76" x2="1022.30" y2="1229.76" stroke="#000" stroke-width="2.40"/>
<line x1="1007.20" y1="1311.18" x2="1022.30" y2="1311.18" stroke="#000" stroke-width="2.40"/>
<line x1="1007.20" y1="1392.60" x2="1022.30" y2="1392.60" stroke="#000" stroke-width="2.40"/>
<line x1="1007.20" y1="1474.02" x2="1022.30" y2="1474.02" stroke="#000" stroke-width="2.40"/>
<line x1="1007.20" y1="1555.44" x2="1022.30" y2="1555.44" stroke="#000" stroke-width="2.40"/>
<line x1="1007.20" y1="1636.86" x2="1022.30" y2="1636.86" stroke="#000" stroke-width="2.40"/>
<text transform="translate(969.99,995.00) scale(0.9954,1)" fill="#000" font-size="33.66"><tspan x="0.00" y="0.00">-6</tspan></text>
<text transform="translate(969.97,1076.42) scale(0.9954,1)" fill="#000" font-size="33.66"><tspan x="0.00" y="0.00">-8</tspan></text>
<text transform="translate(951.19,1157.84) scale(0.9954,1)" fill="#000" font-size="33.66"><tspan x="0.00" y="0.00">-10</tspan></text>
<text transform="translate(951.57,1239.26) scale(0.9954,1)" fill="#000" font-size="33.66"><tspan x="0.00" y="0.00">-12</tspan></text>
<text transform="translate(950.86,1320.68) scale(0.9807,1)" fill="#000" font-size="34.16"><tspan x="0.00" y="0.00">-14</tspan></text>
<text transform="translate(951.35,1402.10) scale(0.9954,1)" fill="#000" font-size="33.66"><tspan x="0.00" y="0.00">-16</tspan></text>
<text transform="translate(951.34,1483.52) scale(0.9954,1)" fill="#000" font-size="33.66"><tspan x="0.00" y="0.00">-18</tspan></text>
<text transform="translate(951.19,1564.94) scale(0.9954,1)" fill="#000" font-size="33.66"><tspan x="0.00" y="0.00">-20</tspan></text>
<text transform="translate(951.57,1646.36) scale(0.9954,1)" fill="#000" font-size="33.66"><tspan x="0.00" y="0.00">-22</tspan></text>
<line x1="1020.30" y1="1648.70" x2="1020.30" y2="1634.50" stroke="#000" stroke-width="2.40"/>
<text transform="translate(996.81,1684.60)" fill="#000" font-size="33.80"><tspan x="0.00" y="0.00">2.2</tspan></text>
<line x1="1128.58" y1="1648.70" x2="1128.58" y2="1634.50" stroke="#000" stroke-width="2.40"/>
<text transform="translate(1104.73,1684.60)" fill="#000" font-size="33.80"><tspan x="0.00" y="0.00">2.4</tspan></text>
<line x1="1236.86" y1="1648.70" x2="1236.86" y2="1634.50" stroke="#000" stroke-width="2.40"/>
<text transform="translate(1213.26,1684.60)" fill="#000" font-size="33.80"><tspan x="0.00" y="0.00">2.6</tspan></text>
<line x1="1345.14" y1="1648.70" x2="1345.14" y2="1634.50" stroke="#000" stroke-width="2.40"/>
<text transform="translate(1321.53,1684.60)" fill="#000" font-size="33.80"><tspan x="0.00" y="0.00">2.8</tspan></text>
<line x1="1453.42" y1="1648.70" x2="1453.42" y2="1634.50" stroke="#000" stroke-width="2.40"/>
<text transform="translate(1429.94,1684.60)" fill="#000" font-size="33.80"><tspan x="0.00" y="0.00">3.0</tspan></text>
<line x1="1561.70" y1="1648.70" x2="1561.70" y2="1634.50" stroke="#000" stroke-width="2.40"/>
<text transform="translate(1538.41,1684.60)" fill="#000" font-size="33.80"><tspan x="0.00" y="0.00">3.2</tspan></text>
<line x1="1669.98" y1="1648.70" x2="1669.98" y2="1634.50" stroke="#000" stroke-width="2.40"/>
<text transform="translate(1646.34,1684.60)" fill="#000" font-size="33.80"><tspan x="0.00" y="0.00">3.4</tspan></text>
<text transform="translate(1242.29,1732.40) scale(0.9882,1)" fill="#000" font-size="32.08"><tspan x="0.00" y="0.00">1000 </tspan><tspan x="80.28" y="0.00" font-style="italic">T</tspan><tspan x="97.31" y="-19.25" font-size="23.10">-1</tspan><tspan x="117.85" y="0.00"> / K</tspan><tspan x="165.98" y="-19.25" font-size="23.10">-1</tspan></text>
<text transform="translate(928.00,1411.07) rotate(-90) scale(1.0093,1)" fill="#000" font-size="31.90"><tspan x="0.00" y="0.00">ln[σ (S cm</tspan><tspan x="145.53" y="-19.14" font-size="22.97">-1</tspan><tspan x="165.95" y="0.00">)]</tspan></text>
<text transform="translate(879.67,979.50) scale(1.0810,1)" fill="#000" font-size="34.80"><tspan x="0.00" y="0.00">(c)</tspan></text>
<line x1="1109.50" y1="1078.50" x2="1646.00" y2="1298.30" stroke="#ff0000" stroke-width="3.60"/>
<line x1="1108.90" y1="1192.50" x2="1646.30" y2="1354.80" stroke="#009999" stroke-width="3.60"/>
<line x1="1109.00" y1="1407.50" x2="1385.00" y2="1577.30" stroke="#999900" stroke-width="3.60"/>
<circle cx="1108.90" cy="1086.80" r="9.1" fill="#ff0000"/>
<circle cx="1189.50" cy="1109.60" r="9.1" fill="#ff0000"/>
<circle cx="1280.50" cy="1142.70" r="9.1" fill="#ff0000"/>
<circle cx="1384.40" cy="1184.50" r="9.1" fill="#ff0000"/>
<circle cx="1504.80" cy="1237.40" r="9.1" fill="#ff0000"/>
<circle cx="1646.10" cy="1308.10" r="9.1" fill="#ff0000"/>
<path d="M1107.94,1183.90 L1109.86,1183.90 L1118.95,1201.60 L1098.85,1201.60 Z" fill="#009999" stroke="#009999" stroke-width="1.2" stroke-linejoin="round"/>
<path d="M1188.54,1208.20 L1190.46,1208.20 L1199.55,1225.90 L1179.45,1225.90 Z" fill="#009999" stroke="#009999" stroke-width="1.2" stroke-linejoin="round"/>
<path d="M1279.54,1233.20 L1281.46,1233.20 L1290.55,1250.90 L1270.45,1250.90 Z" fill="#009999" stroke="#009999" stroke-width="1.2" stroke-linejoin="round"/>
<path d="M1383.44,1264.40 L1385.36,1264.40 L1394.45,1282.10 L1374.35,1282.10 Z" fill="#009999" stroke="#009999" stroke-width="1.2" stroke-linejoin="round"/>
<path d="M1503.84,1301.40 L1505.76,1301.40 L1514.85,1319.10 L1494.75,1319.10 Z" fill="#009999" stroke="#009999" stroke-width="1.2" stroke-linejoin="round"/>
<path d="M1645.34,1343.70 L1647.26,1343.70 L1656.35,1361.40 L1636.25,1361.40 Z" fill="#009999" stroke="#009999" stroke-width="1.2" stroke-linejoin="round"/>
<rect x="1099.90" y="1402.30" width="18.20" height="18.20" rx="1.2" fill="#999900"/>
<rect x="1180.40" y="1442.80" width="18.20" height="18.20" rx="1.2" fill="#999900"/>
<rect x="1271.40" y="1499.30" width="18.20" height="18.20" rx="1.2" fill="#999900"/>
<rect x="1375.90" y="1571.20" width="18.20" height="18.20" rx="1.2" fill="#999900"/>
<circle cx="1048.4" cy="1009.5" r="7.3" fill="#ff0000"/>
<text transform="translate(1071.77,1016.90) scale(0.9689,1)" fill="#ff0000" font-size="33.37"><tspan x="0.00" y="0.00">3Li</tspan><tspan x="44.53" y="5.91" font-size="22.36">2</tspan><tspan x="56.96" y="0.00">S-LiI_liq</tspan></text>
<path d="M1286.08,1000.50 L1287.62,1000.50 L1294.80,1014.30 L1278.90,1014.30 Z" fill="#009999" stroke="#009999" stroke-width="1.2" stroke-linejoin="round"/>
<text transform="translate(1310.24,1016.80) scale(1.0031,1)" fill="#009999" font-size="33.58"><tspan x="0.00" y="0.00">LiI</tspan></text>
<rect x="1375.15" y="1002.15" width="14.60" height="14.60" rx="1.2" fill="#999900"/>
<text transform="translate(1406.14,1016.80)" fill="#999900" font-size="32.51"><tspan x="0.00" y="0.00">Li</tspan><tspan x="25.30" y="5.75" font-size="21.78">2</tspan><tspan x="37.42" y="0.00">S</tspan></text>
<text transform="translate(1371.63,1132.00) scale(0.9388,1)" fill="#ff0000" font-size="33.37"><tspan x="0.00" y="0.00">E</tspan><tspan x="22.26" y="5.67" font-size="21.69">a</tspan><tspan x="34.32" y="0.00"> = 0.47eV</tspan></text>
<text transform="translate(1249.26,1356.50) scale(0.9296,1)" fill="#009999" font-size="33.37"><tspan x="0.00" y="0.00">E</tspan><tspan x="22.26" y="5.67" font-size="21.69">a</tspan><tspan x="34.32" y="0.00"> = 0.34eV</tspan></text>
<text transform="translate(1087.00,1562.20) scale(0.9410,1)" fill="#999900" font-size="33.66"><tspan x="0.00" y="0.00">E</tspan><tspan x="22.45" y="5.72" font-size="21.88">a</tspan><tspan x="34.61" y="0.00"> = 0.70eV</tspan></text>
<rect x="178.1" y="1763.0" width="663.7" height="663.8" fill="none" stroke="#000" stroke-width="2.4"/>
<line x1="508.70" y1="1770.30" x2="508.70" y2="2426.80" stroke="#000" stroke-width="2.10" stroke-dasharray="5.6 5.76"/>
<line x1="178.10" y1="1772.35" x2="190.50" y2="1772.35" stroke="#000" stroke-width="2.40"/>
<text transform="translate(113.79,1781.95)" fill="#000" font-size="34.50"><tspan x="0.00" y="0.00">250</tspan></text>
<line x1="178.10" y1="1879.74" x2="190.50" y2="1879.74" stroke="#000" stroke-width="2.40"/>
<text transform="translate(113.79,1889.34)" fill="#000" font-size="34.50"><tspan x="0.00" y="0.00">200</tspan></text>
<line x1="178.10" y1="1987.13" x2="190.50" y2="1987.13" stroke="#000" stroke-width="2.40"/>
<text transform="translate(113.79,1996.73)" fill="#000" font-size="34.50"><tspan x="0.00" y="0.00">150</tspan></text>
<line x1="178.10" y1="2094.52" x2="190.50" y2="2094.52" stroke="#000" stroke-width="2.40"/>
<text transform="translate(113.79,2104.12)" fill="#000" font-size="34.50"><tspan x="0.00" y="0.00">100</tspan></text>
<line x1="178.10" y1="2201.91" x2="190.50" y2="2201.91" stroke="#000" stroke-width="2.40"/>
<text transform="translate(132.97,2211.51)" fill="#000" font-size="34.50"><tspan x="0.00" y="0.00">50</tspan></text>
<line x1="178.10" y1="2309.30" x2="190.50" y2="2309.30" stroke="#000" stroke-width="2.40"/>
<text transform="translate(152.16,2318.90)" fill="#000" font-size="34.50"><tspan x="0.00" y="0.00">0</tspan></text>
<line x1="178.10" y1="2416.69" x2="190.50" y2="2416.69" stroke="#000" stroke-width="2.40"/>
<text transform="translate(121.48,2426.29)" fill="#000" font-size="34.50"><tspan x="0.00" y="0.00">-50</tspan></text>
<line x1="251.68" y1="2426.80" x2="251.68" y2="2414.10" stroke="#000" stroke-width="2.40"/>
<text transform="translate(236.24,2460.50)" fill="#000" font-size="34.16"><tspan x="0.00" y="0.00">-4</tspan></text>
<line x1="380.54" y1="2426.80" x2="380.54" y2="2414.10" stroke="#000" stroke-width="2.40"/>
<text transform="translate(365.68,2460.50)" fill="#000" font-size="33.66"><tspan x="0.00" y="0.00">-2</tspan></text>
<line x1="509.40" y1="2426.80" x2="509.40" y2="2414.10" stroke="#000" stroke-width="2.40"/>
<text transform="translate(500.04,2460.50)" fill="#000" font-size="33.66"><tspan x="0.00" y="0.00">0</tspan></text>
<line x1="638.26" y1="2426.80" x2="638.26" y2="2414.10" stroke="#000" stroke-width="2.40"/>
<text transform="translate(628.90,2460.50)" fill="#000" font-size="33.66"><tspan x="0.00" y="0.00">2</tspan></text>
<line x1="767.12" y1="2426.80" x2="767.12" y2="2414.10" stroke="#000" stroke-width="2.40"/>
<text transform="translate(757.73,2460.50)" fill="#000" font-size="34.16"><tspan x="0.00" y="0.00">4</tspan></text>
<text transform="translate(399.00,2490.50) scale(1.0770,1)" fill="#000" font-size="31.69"><tspan x="0.00" y="0.00">Energy </tspan><tspan x="109.20" y="0.00" font-style="italic">E</tspan><tspan x="130.34" y="0.00"> / eV</tspan></text>
<text transform="translate(105.70,2204.60) rotate(-90) scale(0.9601,1)" fill="#000" font-size="35.50"><tspan x="0.00" y="0.00">DOS (states/eV)</tspan></text>
<text transform="translate(7.78,1776.60) scale(1.0543,1)" fill="#000" font-size="35.50"><tspan x="0.00" y="0.00">(d)</tspan></text>
<path d="M187.50,2309.40 L304.30,2309.40 C306.47,2309.29 306.78,2305.60 307.50,2303.50 C308.55,2300.46 309.11,2297.20 309.60,2294.00 C310.84,2285.94 311.80,2277.81 312.70,2269.70 C313.60,2261.58 313.47,2253.01 315.00,2245.30 C315.24,2244.11 317.71,2244.17 318.00,2243.00 C319.48,2237.04 319.67,2230.28 320.30,2223.90 C321.70,2209.68 322.70,2181.20 324.10,2181.20 C325.50,2181.20 327.35,2224.38 328.70,2223.90 C330.15,2223.38 331.53,2193.45 332.50,2178.20 C333.79,2157.89 334.32,2137.52 335.50,2117.20 C336.25,2104.22 337.38,2074.99 338.30,2078.30 C339.85,2083.89 341.49,2142.40 342.90,2143.90 C344.13,2145.20 345.08,2105.77 346.20,2086.70 C347.44,2065.63 348.04,2044.04 350.00,2023.50 C350.08,2022.71 351.55,2022.60 352.30,2022.70 C353.35,2022.84 355.17,2025.19 355.40,2024.20 C357.70,2014.26 359.03,1986.25 359.90,1989.90 C361.57,1996.91 362.25,2034.09 363.00,2056.20 C363.78,2079.06 363.37,2102.03 364.50,2124.80 C364.63,2127.47 365.80,2130.07 366.80,2132.50 C367.06,2133.14 368.21,2133.30 368.30,2134.00 C370.91,2154.37 372.77,2192.81 374.90,2195.70 C376.50,2197.88 377.52,2154.91 379.50,2149.20 C380.42,2146.54 383.02,2174.71 383.60,2170.60 C385.66,2155.91 385.42,2118.41 387.40,2092.80 C387.48,2091.71 389.08,2091.34 389.80,2090.50 C390.45,2089.74 391.36,2088.99 391.50,2088.00 C392.72,2079.49 392.12,2069.59 393.90,2062.00 C394.15,2060.92 397.14,2062.90 397.60,2062.00 C398.88,2059.50 398.65,2055.21 399.10,2051.80 C400.01,2044.91 401.06,2038.02 401.70,2031.10 C403.30,2013.72 403.84,1986.21 405.80,1978.90 C406.61,1975.88 408.66,2000.72 410.00,2000.10 C411.59,1999.36 413.27,1972.02 414.60,1974.80 C417.21,1980.28 420.13,2028.71 421.80,2024.90 C424.43,2018.91 425.72,1941.70 427.50,1945.40 C429.85,1950.30 431.66,2036.76 434.20,2050.70 C435.30,2056.72 436.92,2020.43 438.40,2005.30 C439.19,1997.19 439.61,1988.80 441.00,1981.00 C441.14,1980.20 442.89,1980.31 443.00,1979.50 C444.92,1965.18 446.31,1926.36 447.10,1935.60 C450.57,1976.13 453.71,2139.45 455.80,2128.80 C458.71,2113.95 459.99,1847.84 462.10,1859.10 C464.82,1873.58 466.41,2134.22 470.30,2206.00 C471.21,2222.82 474.54,2129.37 476.50,2124.90 C477.90,2121.70 478.99,2163.64 480.40,2183.00 C481.22,2194.21 481.51,2209.27 483.20,2216.60 C483.58,2218.23 486.14,2208.38 486.60,2209.90 C488.38,2215.84 488.79,2229.30 489.90,2239.00 C491.39,2252.03 492.77,2265.08 494.40,2278.10 C495.57,2287.45 496.22,2297.16 498.30,2306.10 C498.65,2307.60 500.13,2309.38 501.70,2309.40 L708.40,2309.40 C710.42,2309.37 711.69,2306.50 713.50,2306.10 C714.89,2305.80 716.64,2307.63 718.00,2307.30 C719.64,2306.90 721.00,2305.04 722.50,2303.90 C723.24,2303.34 724.26,2302.99 724.70,2302.20 C725.93,2300.02 726.31,2295.30 727.50,2295.00 C728.54,2294.74 730.32,2300.84 731.40,2300.50 C732.76,2300.07 733.60,2295.27 734.80,2292.70 C736.40,2289.30 737.59,2284.21 739.80,2282.60 C740.92,2281.78 743.08,2284.58 744.80,2285.40 C746.25,2286.08 748.13,2287.40 749.30,2287.10 C750.20,2286.87 750.64,2284.98 751.00,2283.80 C752.34,2279.38 753.36,2270.30 754.40,2270.30 C755.43,2270.30 756.36,2279.28 757.20,2283.80 C758.23,2289.35 758.89,2300.50 760.00,2300.50 C761.12,2300.50 762.07,2286.28 763.90,2283.80 C764.67,2282.75 766.62,2289.44 767.80,2289.90 C768.49,2290.17 769.32,2287.40 769.50,2286.00 C771.36,2271.37 772.12,2243.67 773.90,2241.80 C775.29,2240.34 777.52,2276.18 779.00,2276.00 C780.52,2275.81 781.44,2239.77 782.90,2240.70 C784.61,2241.80 785.81,2270.44 788.50,2282.10 C788.78,2283.31 790.73,2279.22 791.80,2279.30 C792.97,2279.39 794.61,2283.31 795.20,2282.60 C796.48,2281.07 797.01,2275.99 797.40,2272.60 C799.44,2255.12 800.24,2229.00 802.50,2220.00 C803.24,2217.06 805.41,2231.14 806.40,2236.80 C808.01,2246.04 809.34,2267.18 810.30,2264.70 C811.94,2260.45 812.46,2232.58 814.20,2216.60 C815.06,2208.71 815.97,2199.95 818.10,2193.10 C818.40,2192.12 821.10,2193.96 821.50,2193.10 C822.80,2190.26 822.89,2185.73 823.20,2182.00 C824.19,2170.26 824.53,2148.66 825.40,2146.70 C826.03,2145.30 827.05,2163.49 827.70,2171.90 C828.75,2185.32 829.09,2199.50 830.50,2212.20 C830.56,2212.74 831.57,2211.80 832.10,2211.60" fill="none" stroke="#999900" stroke-width="2.80" stroke-linejoin="round" stroke-linecap="round"/>
<path d="M186.90,2059.30 C188.40,2053.70 189.58,2045.06 191.40,2042.50 C192.12,2041.49 194.13,2046.37 194.50,2048.60 C196.93,2063.40 196.22,2084.24 199.80,2093.60 C200.78,2096.17 206.73,2083.25 208.20,2084.40 C210.30,2086.05 210.17,2096.10 210.50,2102.00 C211.93,2127.36 212.11,2152.83 213.50,2178.20 C213.88,2185.10 214.52,2197.44 215.80,2198.80 C216.69,2199.74 219.22,2182.57 220.00,2185.10 C222.52,2193.24 223.15,2223.24 225.70,2230.80 C226.58,2233.41 229.27,2214.48 230.30,2215.60 C231.84,2217.28 232.54,2231.31 233.40,2239.20 C235.07,2254.41 235.91,2269.74 237.90,2284.90 C238.95,2292.87 240.15,2301.49 242.50,2308.60 C242.85,2309.66 244.80,2309.39 246.00,2309.40 L418.00,2309.40 C418.92,2309.39 419.22,2307.97 420.00,2307.50 C421.39,2306.67 422.94,2305.74 424.50,2305.50 C425.94,2305.28 427.85,2306.80 429.00,2306.10 C431.19,2304.77 432.57,2299.84 434.50,2299.40 C435.90,2299.08 437.68,2304.19 439.00,2303.80 C440.84,2303.26 442.30,2296.80 444.00,2296.60 C445.47,2296.43 447.02,2302.87 448.50,2302.70 C450.22,2302.50 451.82,2295.69 453.60,2295.50 C455.19,2295.33 457.46,2302.62 458.60,2301.60 C460.99,2299.45 461.95,2288.39 464.20,2286.00 C465.12,2285.03 467.15,2292.27 468.10,2291.50 C469.95,2290.00 471.12,2278.93 472.60,2279.20 C474.28,2279.50 475.36,2290.38 477.60,2293.20 C478.32,2294.11 480.17,2290.40 481.50,2290.40 C482.97,2290.40 484.91,2293.92 486.00,2293.20 C488.27,2291.69 489.72,2286.86 491.60,2283.70 C493.82,2279.96 496.44,2276.41 498.30,2272.50 C500.17,2268.58 500.80,2261.96 502.80,2260.20 C503.76,2259.36 505.83,2264.70 507.20,2264.70 C508.43,2264.70 509.76,2259.49 510.60,2260.20 C512.39,2261.72 513.14,2269.14 515.10,2271.40 C515.74,2272.14 517.62,2268.66 518.40,2269.20 C520.02,2270.32 520.98,2276.58 522.30,2276.40 C523.85,2276.18 525.64,2270.90 527.00,2268.00 C528.37,2265.10 529.58,2262.08 530.50,2259.00 C532.01,2253.94 533.26,2248.78 534.30,2243.60 C535.96,2235.38 536.72,2226.89 538.60,2218.80 C538.89,2217.55 539.82,2216.29 540.80,2215.60 C541.62,2215.02 543.00,2215.39 544.00,2215.00 C545.33,2214.49 546.55,2212.70 547.80,2212.90 C549.82,2213.23 552.27,2217.28 553.80,2216.60 C555.97,2215.64 557.05,2208.51 558.90,2208.00 C560.28,2207.61 562.71,2215.00 563.50,2213.90 C565.31,2211.40 565.52,2202.74 566.70,2197.20 C567.85,2191.78 568.66,2185.28 570.50,2181.00 C570.82,2180.25 572.26,2182.04 573.20,2182.10 C574.79,2182.20 577.00,2182.47 578.10,2181.50 C579.87,2179.94 580.97,2176.99 581.80,2174.50 C583.67,2168.89 584.38,2162.85 586.20,2157.20 C587.45,2153.32 589.24,2145.90 591.00,2145.90 C592.84,2145.90 595.61,2153.20 597.00,2157.20 C599.05,2163.10 599.78,2169.49 601.30,2175.60 C603.28,2183.55 604.86,2198.51 607.50,2199.40 C609.72,2200.15 612.54,2184.66 615.90,2180.50 C616.77,2179.42 619.47,2184.74 620.20,2183.70 C622.50,2180.41 622.52,2172.22 625.00,2167.50 C625.92,2165.75 629.00,2163.87 630.40,2164.30 C631.90,2164.77 632.19,2168.66 633.70,2170.20 C634.89,2171.42 637.51,2173.31 638.50,2172.60 C640.01,2171.51 640.56,2167.47 641.20,2164.80 C642.92,2157.67 643.66,2144.71 645.60,2143.20 C646.92,2142.17 648.87,2155.84 651.00,2157.20 C652.27,2158.01 654.68,2152.43 655.80,2149.70 C658.28,2143.63 659.30,2135.06 661.80,2130.80 C662.37,2129.83 664.36,2134.79 665.00,2134.00 C666.86,2131.72 667.95,2121.35 669.30,2121.60 C670.81,2121.88 671.64,2131.29 673.60,2135.60 C674.17,2136.86 676.48,2137.01 676.90,2138.30 C678.48,2143.14 678.99,2148.73 679.60,2154.00 C680.43,2161.16 680.78,2168.39 681.20,2175.60 C682.04,2189.99 682.58,2204.40 683.40,2218.80 C684.22,2233.20 684.88,2247.63 686.10,2262.00 C687.02,2272.83 687.83,2283.78 689.80,2294.40 C690.53,2298.35 692.07,2302.48 694.20,2305.70 C695.33,2307.41 697.49,2309.08 699.60,2309.20 L757.70,2309.30" fill="none" stroke="#ff0000" stroke-width="2.80" stroke-linejoin="round" stroke-linecap="round"/>
<line x1="578.60" y1="1810.60" x2="609.60" y2="1810.60" stroke="#999900" stroke-width="3.00"/>
<text transform="translate(619.91,1818.90) scale(1.0026,1)" fill="#999900" font-size="31.51"><tspan x="0.00" y="0.00">Li</tspan><tspan x="24.52" y="5.67" font-size="21.11">2</tspan><tspan x="36.26" y="0.00">S (total)</tspan></text>
<line x1="580.20" y1="1865.90" x2="611.30" y2="1865.90" stroke="#ff0000" stroke-width="3.00"/>
<text transform="translate(624.44,1871.70) scale(1.0063,1)" fill="#ff0000" font-size="30.79"><tspan x="0.00" y="0.00" font-style="italic">x</tspan><tspan x="15.40" y="0.00">Li</tspan><tspan x="39.36" y="5.54" font-size="20.63">2</tspan><tspan x="50.84" y="0.00">S-LiI (total)</tspan></text>
<rect x="1016.3" y="1759.9" width="664.0" height="664.4" fill="none" stroke="#000" stroke-width="2.4"/>
<line x1="1412.60" y1="1767.00" x2="1412.60" y2="2424.30" stroke="#000" stroke-width="2.10" stroke-dasharray="5.6 5.76"/>
<line x1="1016.30" y1="1770.00" x2="1028.70" y2="1770.00" stroke="#000" stroke-width="2.40"/>
<text transform="translate(961.59,1779.30)" fill="#000" font-size="34.50"><tspan x="0.00" y="0.00">1.0</tspan></text>
<line x1="1016.30" y1="1856.01" x2="1028.70" y2="1856.01" stroke="#000" stroke-width="2.40"/>
<text transform="translate(961.74,1865.31)" fill="#000" font-size="34.50"><tspan x="0.00" y="0.00">0.8</tspan></text>
<line x1="1016.30" y1="1942.03" x2="1028.70" y2="1942.03" stroke="#000" stroke-width="2.40"/>
<text transform="translate(961.76,1951.33)" fill="#000" font-size="34.50"><tspan x="0.00" y="0.00">0.6</tspan></text>
<line x1="1016.30" y1="2028.04" x2="1028.70" y2="2028.04" stroke="#000" stroke-width="2.40"/>
<text transform="translate(961.25,2037.34)" fill="#000" font-size="34.50"><tspan x="0.00" y="0.00">0.4</tspan></text>
<line x1="1016.30" y1="2114.06" x2="1028.70" y2="2114.06" stroke="#000" stroke-width="2.40"/>
<text transform="translate(961.98,2123.36)" fill="#000" font-size="34.50"><tspan x="0.00" y="0.00">0.2</tspan></text>
<line x1="1016.30" y1="2200.07" x2="1028.70" y2="2200.07" stroke="#000" stroke-width="2.40"/>
<text transform="translate(961.59,2209.37)" fill="#000" font-size="34.50"><tspan x="0.00" y="0.00">0.0</tspan></text>
<line x1="1016.30" y1="2286.08" x2="1028.70" y2="2286.08" stroke="#000" stroke-width="2.40"/>
<text transform="translate(950.49,2295.38)" fill="#000" font-size="34.50"><tspan x="0.00" y="0.00">-0.2</tspan></text>
<line x1="1016.30" y1="2372.10" x2="1028.70" y2="2372.10" stroke="#000" stroke-width="2.40"/>
<text transform="translate(949.76,2381.40)" fill="#000" font-size="34.50"><tspan x="0.00" y="0.00">-0.4</tspan></text>
<line x1="1024.95" y1="2424.30" x2="1024.95" y2="2412.40" stroke="#000" stroke-width="2.40"/>
<text transform="translate(1000.54,2458.80)" fill="#000" font-size="33.72"><tspan x="0.00" y="0.00">-15</tspan></text>
<line x1="1154.10" y1="2424.30" x2="1154.10" y2="2412.40" stroke="#000" stroke-width="2.40"/>
<text transform="translate(1130.00,2458.80)" fill="#000" font-size="33.23"><tspan x="0.00" y="0.00">-10</tspan></text>
<line x1="1283.25" y1="2424.30" x2="1283.25" y2="2412.40" stroke="#000" stroke-width="2.40"/>
<text transform="translate(1268.22,2458.80)" fill="#000" font-size="33.72"><tspan x="0.00" y="0.00">-5</tspan></text>
<line x1="1412.40" y1="2424.30" x2="1412.40" y2="2412.40" stroke="#000" stroke-width="2.40"/>
<text transform="translate(1403.16,2458.80)" fill="#000" font-size="33.23"><tspan x="0.00" y="0.00">0</tspan></text>
<line x1="1541.55" y1="2424.30" x2="1541.55" y2="2412.40" stroke="#000" stroke-width="2.40"/>
<text transform="translate(1532.21,2458.80)" fill="#000" font-size="33.72"><tspan x="0.00" y="0.00">5</tspan></text>
<line x1="1670.70" y1="2424.30" x2="1670.70" y2="2412.40" stroke="#000" stroke-width="2.40"/>
<text transform="translate(1651.60,2458.80)" fill="#000" font-size="33.23"><tspan x="0.00" y="0.00">10</tspan></text>
<text transform="translate(1233.19,2491.50) scale(1.0649,1)" fill="#000" font-size="32.12"><tspan x="0.00" y="0.00">Energy </tspan><tspan x="110.70" y="0.00" font-style="italic">E</tspan><tspan x="132.13" y="0.00"> / eV</tspan></text>
<text transform="translate(950.80,2136.24) rotate(-90) scale(0.9593,1)" fill="#000" font-size="35.70"><tspan x="0.00" y="0.00">COHP</tspan></text>
<text transform="translate(941.5,2165.9) rotate(-90)" font-size="25.9" fill="#000" stroke="#000" stroke-width="0.8"><tspan x="0" y="2.9">—</tspan></text>
<text transform="translate(880.44,1776.90) scale(1.0232,1)" fill="#000" font-size="35.60"><tspan x="0.00" y="0.00">(e)</tspan></text>
<path d="M1025.00,2200.10 L1100.00,2200.10 C1101.33,2200.10 1102.67,2200.01 1104.00,2199.93 C1104.34,2199.91 1104.67,2199.86 1105.00,2199.80 C1105.34,2199.75 1105.67,2199.68 1106.00,2199.59 C1106.34,2199.50 1106.68,2199.39 1107.00,2199.25 C1107.35,2199.09 1107.69,2198.92 1108.00,2198.70 C1108.36,2198.45 1108.70,2198.16 1109.00,2197.84 C1109.37,2197.44 1109.71,2197.00 1110.00,2196.54 C1110.38,2195.92 1110.72,2195.27 1111.00,2194.60 C1111.39,2193.68 1111.72,2192.74 1112.00,2191.78 C1112.39,2190.47 1112.72,2189.13 1113.00,2187.78 C1113.38,2185.94 1113.72,2184.09 1114.00,2182.24 C1114.38,2179.74 1114.71,2177.24 1115.00,2174.73 C1115.38,2171.43 1115.71,2168.13 1116.00,2164.82 C1116.37,2160.57 1116.70,2156.31 1117.00,2152.06 C1117.37,2146.72 1117.70,2141.38 1118.00,2136.04 C1118.37,2129.51 1118.70,2122.98 1119.00,2116.45 C1119.36,2108.69 1119.69,2100.92 1120.00,2093.15 C1120.36,2084.17 1120.69,2075.19 1121.00,2066.20 C1121.35,2056.12 1121.68,2046.03 1122.00,2035.94 C1122.35,2024.97 1122.67,2014.00 1123.00,2003.03 C1123.34,1991.50 1123.67,1979.97 1124.00,1968.44 C1124.34,1956.77 1124.66,1945.10 1125.00,1933.43 C1125.33,1922.12 1125.65,1910.82 1126.00,1899.51 C1126.32,1889.12 1126.64,1878.72 1127.00,1868.32 C1127.31,1859.39 1127.63,1850.45 1128.00,1841.51 C1128.29,1834.54 1128.60,1827.56 1129.00,1820.59 C1129.27,1815.99 1129.53,1811.38 1130.00,1806.79 C1130.20,1804.84 1130.57,1801.54 1131.00,1800.97 C1131.24,1800.65 1131.87,1803.02 1132.00,1804.11 C1132.53,1808.46 1132.75,1812.88 1133.00,1817.28 C1133.42,1824.68 1133.71,1832.10 1134.00,1839.51 C1134.38,1849.40 1134.69,1859.29 1135.00,1869.18 C1135.36,1880.85 1135.68,1892.52 1136.00,1904.20 C1136.35,1916.90 1136.67,1929.61 1137.00,1942.31 C1137.34,1955.30 1137.66,1968.29 1138.00,1981.28 C1138.33,1993.89 1138.65,2006.51 1139.00,2019.13 C1139.32,2030.84 1139.65,2042.56 1140.00,2054.27 C1140.31,2064.72 1140.64,2075.16 1141.00,2085.61 C1141.31,2094.58 1141.64,2103.55 1142.00,2112.52 C1142.30,2119.96 1142.63,2127.39 1143.00,2134.83 C1143.30,2140.79 1143.62,2146.75 1144.00,2152.70 C1144.29,2157.32 1144.62,2161.95 1145.00,2166.56 C1145.29,2170.04 1145.61,2173.52 1146.00,2176.98 C1146.28,2179.52 1146.61,2182.05 1147.00,2184.57 C1147.28,2186.37 1147.61,2188.16 1148.00,2189.94 C1148.27,2191.18 1148.61,2192.41 1149.00,2193.62 C1149.27,2194.46 1149.61,2195.29 1150.00,2196.08 C1150.28,2196.63 1150.62,2197.17 1151.00,2197.66 C1151.29,2198.03 1151.64,2198.37 1152.00,2198.66 C1152.30,2198.91 1152.65,2199.10 1153.00,2199.27 C1153.32,2199.43 1153.66,2199.54 1154.00,2199.64 C1154.33,2199.73 1154.66,2199.79 1155.00,2199.85 C1155.33,2199.90 1155.66,2199.96 1156.00,2199.97 C1159.00,2200.04 1162.00,2200.10 1165.00,2200.10 L1322.50,2200.10 C1323.97,2200.08 1325.75,2199.36 1326.50,2198.20 C1328.31,2195.40 1329.41,2191.65 1330.20,2188.20 C1331.91,2180.72 1332.92,2173.03 1334.00,2165.40 C1335.95,2151.69 1337.17,2137.87 1339.30,2124.20 C1340.74,2114.97 1342.52,2105.77 1344.70,2096.70 C1345.76,2092.30 1347.60,2083.80 1349.00,2083.80 C1350.40,2083.80 1352.41,2092.26 1353.10,2096.70 C1355.05,2109.29 1355.29,2122.22 1356.90,2134.90 C1357.55,2140.02 1358.20,2145.34 1359.90,2150.10 C1360.74,2152.44 1363.22,2154.01 1364.50,2156.20 C1366.79,2160.11 1368.66,2164.29 1370.60,2168.40 C1373.22,2173.96 1374.91,2180.13 1378.20,2185.20 C1380.51,2188.76 1384.08,2191.59 1387.40,2194.30 C1389.68,2196.16 1392.39,2197.51 1395.00,2198.90 C1396.69,2199.81 1398.47,2201.00 1400.30,2201.20 C1402.04,2201.40 1403.87,2200.12 1405.70,2200.10 L1486.40,2200.30 C1488.91,2200.38 1491.44,2201.53 1493.50,2202.90 C1496.54,2204.93 1499.22,2207.74 1501.70,2210.50 C1503.62,2212.64 1504.86,2215.38 1506.70,2217.60 C1508.23,2219.45 1510.48,2220.74 1511.80,2222.70 C1513.22,2224.81 1514.15,2227.34 1514.90,2229.80 C1516.52,2235.14 1516.95,2240.92 1518.90,2246.10 C1520.09,2249.26 1523.19,2251.62 1524.30,2254.80 C1526.43,2260.92 1527.46,2267.55 1528.60,2274.00 C1530.00,2281.95 1530.88,2289.99 1531.90,2298.00 C1533.05,2306.99 1533.86,2316.02 1535.10,2325.00 C1536.20,2332.96 1536.91,2346.23 1538.90,2348.80 C1539.98,2350.19 1542.18,2338.32 1544.30,2336.90 C1545.42,2336.15 1547.53,2343.06 1548.60,2342.30 C1550.60,2340.89 1551.42,2334.07 1553.50,2330.40 C1554.48,2328.67 1557.07,2327.93 1557.80,2326.10 C1559.94,2320.73 1561.05,2314.64 1562.10,2308.80 C1563.58,2300.61 1564.06,2292.23 1565.40,2284.00 C1566.76,2275.66 1568.40,2260.10 1570.20,2259.10 C1571.63,2258.30 1573.88,2272.02 1575.10,2278.60 C1576.95,2288.59 1577.86,2298.75 1579.40,2308.80 C1580.73,2317.45 1582.01,2332.44 1583.70,2334.70 C1584.71,2336.04 1586.83,2324.73 1587.50,2319.60 C1589.36,2305.30 1590.13,2290.81 1591.30,2276.40 C1592.47,2262.01 1593.01,2247.55 1594.50,2233.20 C1595.18,2226.68 1595.95,2220.01 1597.80,2213.80 C1598.85,2210.27 1600.91,2206.81 1603.20,2204.00 C1604.51,2202.38 1606.49,2200.62 1608.60,2200.50 L1670.70,2200.20" fill="none" stroke="#999900" stroke-width="3.20" stroke-linejoin="round" stroke-linecap="round"/>
<path d="M1025.00,2200.10 L1199.80,2200.10 C1203.03,2200.01 1205.21,2196.26 1208.20,2195.10 C1210.81,2194.09 1213.88,2194.38 1216.60,2193.60 C1219.71,2192.71 1222.59,2190.74 1225.70,2190.10 C1227.65,2189.70 1231.02,2191.96 1231.80,2190.50 C1234.08,2186.26 1234.47,2178.90 1234.90,2173.00 C1236.77,2147.63 1237.49,2122.14 1238.70,2096.70 C1239.79,2073.84 1240.30,2050.93 1241.80,2028.10 C1242.34,2019.93 1243.78,2003.70 1244.80,2003.70 C1245.82,2003.70 1247.29,2019.93 1247.90,2028.10 C1249.59,2050.93 1250.00,2073.87 1251.70,2096.70 C1252.76,2110.97 1253.97,2125.30 1256.20,2139.40 C1257.27,2146.17 1258.79,2153.67 1261.60,2159.30 C1262.35,2160.80 1265.58,2159.70 1266.90,2160.80 C1268.62,2162.23 1269.83,2164.68 1270.70,2166.90 C1273.40,2173.81 1274.14,2182.02 1277.60,2188.20 C1278.97,2190.65 1282.78,2191.10 1285.20,2192.80 C1287.85,2194.67 1290.26,2196.87 1292.80,2198.90 C1295.36,2200.94 1297.77,2204.59 1300.50,2205.00 C1302.87,2205.36 1305.42,2201.99 1308.10,2201.20 C1310.99,2200.35 1314.15,2200.15 1317.20,2200.10 L1378.20,2200.10 C1381.37,2200.22 1384.91,2200.95 1387.40,2202.70 C1390.51,2204.88 1392.07,2209.46 1395.00,2211.90 C1396.27,2212.96 1398.35,2212.71 1400.00,2213.20 C1401.38,2213.61 1403.33,2213.49 1404.10,2214.60 C1406.36,2217.86 1406.78,2222.92 1409.10,2226.30 C1410.48,2228.32 1413.48,2229.01 1415.20,2230.80 C1416.55,2232.21 1417.76,2234.00 1418.30,2235.90 C1420.83,2244.87 1421.74,2254.49 1424.40,2263.40 C1425.14,2265.86 1426.76,2268.26 1428.50,2270.00 C1429.46,2270.96 1431.62,2270.47 1432.50,2271.50 C1434.65,2274.01 1436.04,2277.49 1437.60,2280.60 C1439.77,2284.93 1441.53,2292.50 1443.70,2293.80 C1444.93,2294.53 1447.14,2289.33 1447.80,2286.70 C1450.54,2275.79 1451.07,2264.01 1453.90,2253.20 C1454.44,2251.14 1456.39,2249.61 1457.90,2248.10 C1459.09,2246.91 1460.65,2246.12 1462.00,2245.10 C1463.55,2243.92 1465.24,2241.33 1466.60,2241.50 C1467.94,2241.67 1469.65,2244.26 1470.10,2246.10 C1472.52,2255.96 1472.85,2266.60 1475.20,2276.60 C1476.59,2282.50 1479.13,2292.81 1481.30,2293.80 C1482.86,2294.51 1485.05,2285.85 1486.40,2281.70 C1488.12,2276.39 1488.17,2269.91 1490.50,2265.40 C1491.24,2263.97 1494.13,2264.77 1495.60,2263.90 C1496.99,2263.07 1498.24,2261.71 1499.10,2260.30 C1500.94,2257.28 1501.43,2252.77 1503.70,2250.60 C1505.00,2249.37 1507.86,2250.62 1509.80,2250.10 C1511.60,2249.62 1513.20,2248.43 1514.90,2247.60 C1516.60,2246.77 1519.01,2246.58 1520.00,2245.10 C1522.15,2241.88 1523.00,2237.41 1524.30,2233.50 C1526.60,2226.61 1528.10,2219.40 1530.80,2212.70 C1532.43,2208.67 1534.61,2204.39 1537.30,2201.30 C1538.21,2200.26 1540.13,2200.31 1541.60,2200.30 L1670.70,2200.20" fill="none" stroke="#ff0000" stroke-width="3.20" stroke-linejoin="round" stroke-linecap="round"/>
<line x1="1417.10" y1="1795.30" x2="1448.10" y2="1795.30" stroke="#999900" stroke-width="3.00"/>
<text transform="translate(1459.02,1803.40) scale(1.0084,1)" fill="#999900" font-size="31.22"><tspan x="0.00" y="0.00">Li-S in Li</tspan><tspan x="121.47" y="5.62" font-size="20.92">2</tspan><tspan x="133.10" y="0.00">S</tspan></text>
<line x1="1417.10" y1="1848.60" x2="1448.10" y2="1848.60" stroke="#ff0000" stroke-width="3.00"/>
<text transform="translate(1459.01,1854.00) scale(1.0164,1)" fill="#ff0000" font-size="31.08"><tspan x="0.00" y="0.00">Li-S in </tspan><tspan x="96.72" y="0.00" font-style="italic">x</tspan><tspan x="112.26" y="0.00">Li</tspan><tspan x="136.45" y="5.59" font-size="20.82">2</tspan><tspan x="148.03" y="0.00">S-LiI</tspan></text>
<rect x="1395" y="1901" width="40" height="31" fill="#fff"/>
<rect x="1395" y="1957" width="40" height="31" fill="#fff"/>
<text transform="translate(1202.57,1924.70) scale(0.9730,1)" fill="#999900" font-size="26.21"><tspan x="0.00" y="0.00">-ICOHP (Li</tspan><tspan x="128.14" y="4.72" font-size="17.56">2</tspan><tspan x="137.90" y="0.00">S) = 0.7559eV</tspan></text>
<text transform="translate(1202.57,1980.10) scale(0.9745,1)" fill="#ff0000" font-size="26.21"><tspan x="0.00" y="0.00">-ICOHP (</tspan><tspan x="107.74" y="0.00" font-style="italic">x</tspan><tspan x="120.84" y="0.00">Li</tspan><tspan x="141.24" y="4.72" font-size="17.56">2</tspan><tspan x="151.01" y="0.00">S-LiI) = 0.6332eV</tspan></text>
</svg>
</body></html>
